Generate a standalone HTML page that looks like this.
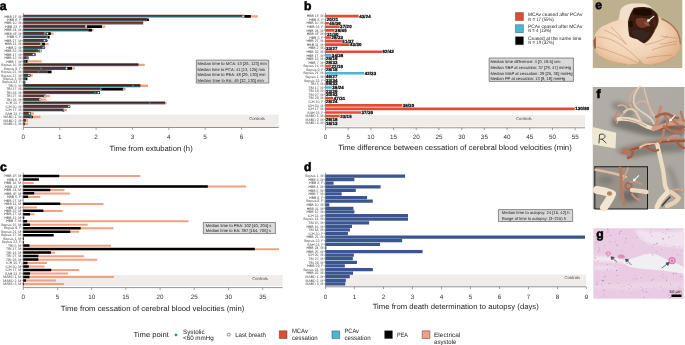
<!DOCTYPE html><html><head><meta charset="utf-8"><style>html,body{margin:0;padding:0;background:#fff;width:685px;height:345px;overflow:hidden}svg text{font-family:"Liberation Sans",sans-serif;text-rendering:geometricPrecision}</style></head><body><svg width="685" height="345" viewBox="0 0 685 345" style="position:absolute;left:0;top:0;will-change:transform;font-family:&quot;Liberation Sans&quot;, sans-serif">
<rect x="0" y="0" width="685" height="345" fill="#fff"/>
<g transform="matrix(1 0 0.0005 1 -0.086 0)">
<rect x="23.40" y="114.80" width="255.30" height="12.40" fill="#f0ece9" />
<line x1="23.40" y1="13.00" x2="23.40" y2="127.50" stroke="#666" stroke-width="0.6"/>
<line x1="23.40" y1="127.50" x2="278.70" y2="127.50" stroke="#666" stroke-width="0.7"/>
<line x1="23.40" y1="127.50" x2="23.40" y2="129.90" stroke="#666" stroke-width="0.6"/>
<text x="23.40" y="138.80" font-size="6.3" fill="#333" text-anchor="middle" font-weight="normal" >0</text>
<line x1="59.75" y1="127.50" x2="59.75" y2="129.90" stroke="#666" stroke-width="0.6"/>
<text x="59.75" y="138.80" font-size="6.3" fill="#333" text-anchor="middle" font-weight="normal" >1</text>
<line x1="96.10" y1="127.50" x2="96.10" y2="129.90" stroke="#666" stroke-width="0.6"/>
<text x="96.10" y="138.80" font-size="6.3" fill="#333" text-anchor="middle" font-weight="normal" >2</text>
<line x1="132.45" y1="127.50" x2="132.45" y2="129.90" stroke="#666" stroke-width="0.6"/>
<text x="132.45" y="138.80" font-size="6.3" fill="#333" text-anchor="middle" font-weight="normal" >3</text>
<line x1="168.80" y1="127.50" x2="168.80" y2="129.90" stroke="#666" stroke-width="0.6"/>
<text x="168.80" y="138.80" font-size="6.3" fill="#333" text-anchor="middle" font-weight="normal" >4</text>
<line x1="205.15" y1="127.50" x2="205.15" y2="129.90" stroke="#666" stroke-width="0.6"/>
<text x="205.15" y="138.80" font-size="6.3" fill="#333" text-anchor="middle" font-weight="normal" >5</text>
<line x1="241.50" y1="127.50" x2="241.50" y2="129.90" stroke="#666" stroke-width="0.6"/>
<text x="241.50" y="138.80" font-size="6.3" fill="#333" text-anchor="middle" font-weight="normal" >6</text>
<text x="109.50" y="150.50" font-size="7.5" fill="#222" text-anchor="start" font-weight="normal" textLength="83.20" lengthAdjust="spacingAndGlyphs">Time from extubation (h)</text>
<text x="264.80" y="119.80" font-size="4.2" fill="#444" text-anchor="end" font-weight="normal" >Controls</text>
<rect x="23.40" y="15.15" width="234.60" height="2.30" fill="#f2a081" />
<rect x="23.40" y="14.65" width="220.50" height="3.30" fill="url(#stripe0)" />
<rect x="244.50" y="14.95" width="6.40" height="2.70" fill="#000000" />
<circle cx="243.20" cy="16.30" r="1.05" fill="#fff" stroke="#222" stroke-width="0.35"/>
<rect x="23.40" y="18.12" width="123.60" height="3.30" fill="url(#stripe0)" />
<rect x="147.00" y="18.42" width="2.00" height="2.70" fill="#000000" />
<rect x="23.40" y="21.59" width="119.90" height="3.30" fill="url(#stripe0)" />
<rect x="23.40" y="25.57" width="81.90" height="2.30" fill="#f2a081" />
<rect x="23.40" y="25.07" width="62.00" height="3.30" fill="url(#stripe0)" />
<rect x="87.00" y="25.37" width="15.00" height="2.70" fill="#000000" />
<circle cx="86.20" cy="26.72" r="1.05" fill="#fff" stroke="#222" stroke-width="0.35"/>
<rect x="23.40" y="29.04" width="70.20" height="2.30" fill="#f2a081" />
<rect x="23.40" y="28.54" width="65.10" height="3.30" fill="url(#stripe0)" />
<rect x="88.50" y="28.84" width="3.50" height="2.70" fill="#000000" />
<rect x="23.40" y="32.51" width="30.30" height="2.30" fill="#f2a081" />
<rect x="23.40" y="32.01" width="21.20" height="3.30" fill="url(#stripe1)" />
<rect x="45.50" y="32.31" width="5.40" height="2.70" fill="#000000" />
<path d="M44.90,32.46 l1.2,1.2 l-1.2,1.2 l-1.2,-1.2 Z" fill="#1a9a88"/>
<circle cx="47.40" cy="33.66" r="1.05" fill="#fff" stroke="#222" stroke-width="0.35"/>
<rect x="23.40" y="35.48" width="24.60" height="3.30" fill="url(#stripe1)" />
<rect x="48.00" y="35.78" width="1.70" height="2.70" fill="#000000" />
<path d="M47.20,35.93 l1.2,1.2 l-1.2,1.2 l-1.2,-1.2 Z" fill="#1a9a88"/>
<rect x="23.40" y="38.95" width="22.60" height="3.30" fill="url(#stripe1)" />
<rect x="46.00" y="39.25" width="1.00" height="2.70" fill="#000000" />
<circle cx="44.60" cy="40.60" r="1.05" fill="#fff" stroke="#222" stroke-width="0.35"/>
<path d="M47.20,39.40 l1.2,1.2 l-1.2,1.2 l-1.2,-1.2 Z" fill="#1a9a88"/>
<rect x="23.40" y="42.93" width="25.20" height="2.30" fill="#f2a081" />
<rect x="23.40" y="42.43" width="16.60" height="3.30" fill="url(#stripe1)" />
<rect x="40.50" y="42.73" width="4.50" height="2.70" fill="#000000" />
<circle cx="41.20" cy="44.08" r="1.05" fill="#fff" stroke="#222" stroke-width="0.35"/>
<rect x="23.40" y="45.90" width="20.10" height="3.30" fill="url(#stripe1)" />
<rect x="43.50" y="46.20" width="1.30" height="2.70" fill="#000000" />
<circle cx="43.50" cy="47.55" r="1.05" fill="#fff" stroke="#222" stroke-width="0.35"/>
<path d="M44.40,46.35 l1.2,1.2 l-1.2,1.2 l-1.2,-1.2 Z" fill="#1a9a88"/>
<rect x="23.40" y="49.87" width="18.60" height="2.30" fill="#f2a081" />
<rect x="23.40" y="49.37" width="14.60" height="3.30" fill="url(#stripe1)" />
<rect x="38.50" y="49.67" width="1.50" height="2.70" fill="#000000" />
<path d="M39.30,49.82 l1.2,1.2 l-1.2,1.2 l-1.2,-1.2 Z" fill="#1a9a88"/>
<circle cx="40.70" cy="51.02" r="1.05" fill="#fff" stroke="#222" stroke-width="0.35"/>
<rect x="23.40" y="52.84" width="11.10" height="3.30" fill="url(#stripe1)" />
<rect x="34.50" y="53.14" width="1.20" height="2.70" fill="#000000" />
<circle cx="33.50" cy="54.49" r="1.05" fill="#fff" stroke="#222" stroke-width="0.35"/>
<path d="M35.20,53.29 l1.2,1.2 l-1.2,1.2 l-1.2,-1.2 Z" fill="#1a9a88"/>
<rect x="23.40" y="56.31" width="3.10" height="3.30" fill="url(#stripe1)" />
<rect x="26.50" y="56.61" width="2.00" height="2.70" fill="#000000" />
<path d="M27.30,56.76 l1.2,1.2 l-1.2,1.2 l-1.2,-1.2 Z" fill="#1a9a88"/>
<rect x="23.40" y="60.29" width="18.30" height="2.30" fill="#f2a081" />
<rect x="23.40" y="59.79" width="2.10" height="3.30" fill="url(#stripe1)" />
<rect x="25.50" y="60.09" width="2.00" height="2.70" fill="#000000" />
<rect x="23.40" y="63.76" width="121.40" height="2.30" fill="#f2a081" />
<rect x="23.40" y="63.26" width="115.10" height="3.30" fill="url(#stripe0)" />
<rect x="23.40" y="67.23" width="51.60" height="2.30" fill="#f2a081" />
<rect x="23.40" y="66.73" width="43.00" height="3.30" fill="url(#stripe1)" />
<rect x="66.80" y="67.03" width="5.20" height="2.70" fill="#000000" />
<path d="M41.00,67.18 l1.2,1.2 l-1.2,1.2 l-1.2,-1.2 Z" fill="#1a9a88"/>
<circle cx="66.60" cy="68.38" r="1.05" fill="#fff" stroke="#222" stroke-width="0.35"/>
<rect x="23.40" y="70.20" width="24.00" height="3.30" fill="url(#stripe1)" />
<rect x="47.40" y="70.50" width="4.20" height="2.70" fill="#000000" />
<path d="M38.60,70.65 l1.2,1.2 l-1.2,1.2 l-1.2,-1.2 Z" fill="#1a9a88"/>
<rect x="23.40" y="74.17" width="9.40" height="2.30" fill="#f2a081" />
<rect x="23.40" y="73.67" width="4.60" height="3.30" fill="url(#stripe1)" />
<rect x="28.00" y="73.97" width="2.40" height="2.70" fill="#000000" />
<circle cx="29.00" cy="75.32" r="1.05" fill="#fff" stroke="#222" stroke-width="0.35"/>
<rect x="23.40" y="77.15" width="2.60" height="3.30" fill="url(#stripe1)" />
<rect x="26.00" y="77.45" width="1.50" height="2.70" fill="#000000" />
<rect x="23.40" y="80.62" width="1.80" height="3.30" fill="url(#stripe1)" />
<path d="M25.00,81.07 l1.2,1.2 l-1.2,1.2 l-1.2,-1.2 Z" fill="#1a9a88"/>
<rect x="23.40" y="84.59" width="124.60" height="2.30" fill="#f2a081" />
<rect x="23.40" y="84.09" width="117.00" height="3.30" fill="url(#stripe0)" />
<path d="M133.00,84.54 l1.2,1.2 l-1.2,1.2 l-1.2,-1.2 Z" fill="#1a9a88"/>
<rect x="23.40" y="88.06" width="102.20" height="2.30" fill="#f2a081" />
<rect x="23.40" y="87.56" width="77.20" height="3.30" fill="url(#stripe0)" />
<rect x="101.00" y="87.86" width="22.30" height="2.70" fill="#000000" />
<path d="M101.00,88.01 l1.2,1.2 l-1.2,1.2 l-1.2,-1.2 Z" fill="#1a9a88"/>
<circle cx="123.80" cy="89.21" r="1.05" fill="#fff" stroke="#222" stroke-width="0.35"/>
<rect x="23.40" y="91.03" width="75.10" height="3.30" fill="url(#stripe0)" />
<rect x="98.50" y="91.33" width="1.50" height="2.70" fill="#000000" />
<path d="M95.00,91.48 l1.2,1.2 l-1.2,1.2 l-1.2,-1.2 Z" fill="#1a9a88"/>
<circle cx="98.50" cy="92.68" r="1.05" fill="#fff" stroke="#222" stroke-width="0.35"/>
<rect x="23.40" y="95.01" width="26.50" height="2.30" fill="#f2a081" />
<rect x="23.40" y="94.51" width="22.10" height="3.30" fill="url(#stripe1)" />
<circle cx="45.00" cy="96.16" r="1.05" fill="#fff" stroke="#222" stroke-width="0.35"/>
<rect x="23.40" y="98.48" width="23.10" height="2.30" fill="#f2a081" />
<rect x="23.40" y="97.98" width="16.80" height="3.30" fill="url(#stripe1)" />
<circle cx="40.00" cy="99.63" r="1.05" fill="#fff" stroke="#222" stroke-width="0.35"/>
<rect x="23.40" y="101.95" width="143.20" height="2.30" fill="#f2a081" />
<rect x="23.40" y="101.45" width="141.70" height="3.30" fill="url(#stripe0)" />
<path d="M150.00,101.90 l1.2,1.2 l-1.2,1.2 l-1.2,-1.2 Z" fill="#1a9a88"/>
<rect x="23.40" y="104.92" width="45.10" height="3.30" fill="url(#stripe1)" />
<rect x="68.50" y="105.22" width="1.70" height="2.70" fill="#000000" />
<circle cx="69.00" cy="106.57" r="1.05" fill="#fff" stroke="#222" stroke-width="0.35"/>
<rect x="23.40" y="108.89" width="43.40" height="2.30" fill="#f2a081" />
<rect x="23.40" y="108.39" width="39.10" height="3.30" fill="url(#stripe1)" />
<rect x="62.50" y="108.69" width="1.50" height="2.70" fill="#000000" />
<circle cx="64.20" cy="110.04" r="1.05" fill="#fff" stroke="#222" stroke-width="0.35"/>
<rect x="23.40" y="112.37" width="10.40" height="2.30" fill="#f2a081" />
<rect x="23.40" y="111.87" width="6.10" height="3.30" fill="url(#stripe1)" />
<rect x="29.50" y="112.17" width="1.20" height="2.70" fill="#000000" />
<circle cx="29.50" cy="113.52" r="1.05" fill="#fff" stroke="#222" stroke-width="0.35"/>
<rect x="23.40" y="115.84" width="17.00" height="2.30" fill="#f2a081" />
<rect x="23.40" y="115.34" width="8.10" height="3.30" fill="url(#stripe1)" />
<rect x="31.50" y="115.64" width="1.30" height="2.70" fill="#000000" />
<path d="M31.00,115.79 l1.2,1.2 l-1.2,1.2 l-1.2,-1.2 Z" fill="#1a9a88"/>
<rect x="23.40" y="119.31" width="4.60" height="2.30" fill="#f2a081" />
<rect x="23.40" y="118.81" width="1.10" height="3.30" fill="url(#stripe1)" />
<rect x="24.50" y="119.11" width="1.10" height="2.70" fill="#000000" />
<rect x="23.40" y="122.78" width="4.60" height="2.30" fill="#f2a081" />
<rect x="23.40" y="122.28" width="0.40" height="3.30" fill="url(#stripe1)" />
<rect x="23.80" y="122.58" width="0.90" height="2.70" fill="#000000" />
<text x="21.40" y="17.50" font-size="3.5" fill="#4a4a4a" text-anchor="end" font-weight="normal" >HBB 1F, M</text>
<text x="21.40" y="20.97" font-size="3.5" fill="#4a4a4a" text-anchor="end" font-weight="normal" >HBB 8, F</text>
<text x="21.40" y="24.44" font-size="3.5" fill="#4a4a4a" text-anchor="end" font-weight="normal" >HBB 10, M</text>
<text x="21.40" y="27.92" font-size="3.5" fill="#4a4a4a" text-anchor="end" font-weight="normal" >HBB 23, F</text>
<text x="21.40" y="31.39" font-size="3.5" fill="#4a4a4a" text-anchor="end" font-weight="normal" >HBB 24, M</text>
<text x="21.40" y="34.86" font-size="3.5" fill="#4a4a4a" text-anchor="end" font-weight="normal" >HBB 4F, M</text>
<text x="21.40" y="38.33" font-size="3.5" fill="#4a4a4a" text-anchor="end" font-weight="normal" >HBB 5, F</text>
<text x="21.40" y="41.80" font-size="3.5" fill="#4a4a4a" text-anchor="end" font-weight="normal" >HBB 27, M</text>
<text x="21.40" y="45.28" font-size="3.5" fill="#4a4a4a" text-anchor="end" font-weight="normal" >HBB 11, M</text>
<text x="21.40" y="48.75" font-size="3.5" fill="#4a4a4a" text-anchor="end" font-weight="normal" >HBB 2, M</text>
<text x="21.40" y="52.22" font-size="3.5" fill="#4a4a4a" text-anchor="end" font-weight="normal" >HBB 32, M</text>
<text x="21.40" y="55.69" font-size="3.5" fill="#4a4a4a" text-anchor="end" font-weight="normal" >HBB 17, M</text>
<text x="21.40" y="59.16" font-size="3.5" fill="#4a4a4a" text-anchor="end" font-weight="normal" >HBB 12, M</text>
<text x="21.40" y="62.64" font-size="3.5" fill="#4a4a4a" text-anchor="end" font-weight="normal" >HBB 7, M</text>
<text x="21.40" y="66.11" font-size="3.5" fill="#4a4a4a" text-anchor="end" font-weight="normal" >Sepsis 16, M</text>
<text x="21.40" y="69.58" font-size="3.5" fill="#4a4a4a" text-anchor="end" font-weight="normal" >Sepsis 9, F</text>
<text x="21.40" y="73.05" font-size="3.5" fill="#4a4a4a" text-anchor="end" font-weight="normal" >Sepsis 21, M</text>
<text x="21.40" y="76.52" font-size="3.5" fill="#4a4a4a" text-anchor="end" font-weight="normal" >Sepsis 17, M</text>
<text x="21.40" y="80.00" font-size="3.5" fill="#4a4a4a" text-anchor="end" font-weight="normal" >Sepsis 1, M</text>
<text x="21.40" y="83.47" font-size="3.5" fill="#4a4a4a" text-anchor="end" font-weight="normal" >Sepsis 22, F</text>
<text x="21.40" y="86.94" font-size="3.5" fill="#4a4a4a" text-anchor="end" font-weight="normal" >TBI 5, M</text>
<text x="21.40" y="90.41" font-size="3.5" fill="#4a4a4a" text-anchor="end" font-weight="normal" >TBI 17, M</text>
<text x="21.40" y="93.88" font-size="3.5" fill="#4a4a4a" text-anchor="end" font-weight="normal" >TBI 18, M</text>
<text x="21.40" y="97.36" font-size="3.5" fill="#4a4a4a" text-anchor="end" font-weight="normal" >TBI 27, M</text>
<text x="21.40" y="100.83" font-size="3.5" fill="#4a4a4a" text-anchor="end" font-weight="normal" >TBI 28, M</text>
<text x="21.40" y="104.30" font-size="3.5" fill="#4a4a4a" text-anchor="end" font-weight="normal" >ICH 20, F</text>
<text x="21.40" y="107.77" font-size="3.5" fill="#4a4a4a" text-anchor="end" font-weight="normal" >ICH 30, M</text>
<text x="21.40" y="111.24" font-size="3.5" fill="#4a4a4a" text-anchor="end" font-weight="normal" >ICH 17, M</text>
<text x="21.40" y="114.72" font-size="3.5" fill="#4a4a4a" text-anchor="end" font-weight="normal" >SAH 23, F</text>
<text x="21.40" y="118.19" font-size="3.5" fill="#4a4a4a" text-anchor="end" font-weight="normal" >MABD 1, M</text>
<text x="21.40" y="121.66" font-size="3.5" fill="#4a4a4a" text-anchor="end" font-weight="normal" >MABD 2, M</text>
<text x="21.40" y="125.13" font-size="3.5" fill="#4a4a4a" text-anchor="end" font-weight="normal" >MABD 3, M</text>
<line x1="21.80" y1="16.30" x2="23.40" y2="16.30" stroke="#444" stroke-width="0.4"/>
<line x1="21.80" y1="19.77" x2="23.40" y2="19.77" stroke="#444" stroke-width="0.4"/>
<line x1="21.80" y1="23.24" x2="23.40" y2="23.24" stroke="#444" stroke-width="0.4"/>
<line x1="21.80" y1="26.72" x2="23.40" y2="26.72" stroke="#444" stroke-width="0.4"/>
<line x1="21.80" y1="30.19" x2="23.40" y2="30.19" stroke="#444" stroke-width="0.4"/>
<line x1="21.80" y1="33.66" x2="23.40" y2="33.66" stroke="#444" stroke-width="0.4"/>
<line x1="21.80" y1="37.13" x2="23.40" y2="37.13" stroke="#444" stroke-width="0.4"/>
<line x1="21.80" y1="40.60" x2="23.40" y2="40.60" stroke="#444" stroke-width="0.4"/>
<line x1="21.80" y1="44.08" x2="23.40" y2="44.08" stroke="#444" stroke-width="0.4"/>
<line x1="21.80" y1="47.55" x2="23.40" y2="47.55" stroke="#444" stroke-width="0.4"/>
<line x1="21.80" y1="51.02" x2="23.40" y2="51.02" stroke="#444" stroke-width="0.4"/>
<line x1="21.80" y1="54.49" x2="23.40" y2="54.49" stroke="#444" stroke-width="0.4"/>
<line x1="21.80" y1="57.96" x2="23.40" y2="57.96" stroke="#444" stroke-width="0.4"/>
<line x1="21.80" y1="61.44" x2="23.40" y2="61.44" stroke="#444" stroke-width="0.4"/>
<line x1="21.80" y1="64.91" x2="23.40" y2="64.91" stroke="#444" stroke-width="0.4"/>
<line x1="21.80" y1="68.38" x2="23.40" y2="68.38" stroke="#444" stroke-width="0.4"/>
<line x1="21.80" y1="71.85" x2="23.40" y2="71.85" stroke="#444" stroke-width="0.4"/>
<line x1="21.80" y1="75.32" x2="23.40" y2="75.32" stroke="#444" stroke-width="0.4"/>
<line x1="21.80" y1="78.80" x2="23.40" y2="78.80" stroke="#444" stroke-width="0.4"/>
<line x1="21.80" y1="82.27" x2="23.40" y2="82.27" stroke="#444" stroke-width="0.4"/>
<line x1="21.80" y1="85.74" x2="23.40" y2="85.74" stroke="#444" stroke-width="0.4"/>
<line x1="21.80" y1="89.21" x2="23.40" y2="89.21" stroke="#444" stroke-width="0.4"/>
<line x1="21.80" y1="92.68" x2="23.40" y2="92.68" stroke="#444" stroke-width="0.4"/>
<line x1="21.80" y1="96.16" x2="23.40" y2="96.16" stroke="#444" stroke-width="0.4"/>
<line x1="21.80" y1="99.63" x2="23.40" y2="99.63" stroke="#444" stroke-width="0.4"/>
<line x1="21.80" y1="103.10" x2="23.40" y2="103.10" stroke="#444" stroke-width="0.4"/>
<line x1="21.80" y1="106.57" x2="23.40" y2="106.57" stroke="#444" stroke-width="0.4"/>
<line x1="21.80" y1="110.04" x2="23.40" y2="110.04" stroke="#444" stroke-width="0.4"/>
<line x1="21.80" y1="113.52" x2="23.40" y2="113.52" stroke="#444" stroke-width="0.4"/>
<line x1="21.80" y1="116.99" x2="23.40" y2="116.99" stroke="#444" stroke-width="0.4"/>
<line x1="21.80" y1="120.46" x2="23.40" y2="120.46" stroke="#444" stroke-width="0.4"/>
<line x1="21.80" y1="123.93" x2="23.40" y2="123.93" stroke="#444" stroke-width="0.4"/>
<rect x="196.40" y="60.10" width="72.40" height="23.00" fill="#d9d9d9" stroke="#4a4a4a" stroke-width="0.6"/>
<text x="197.60" y="64.80" font-size="4.2" fill="#1a1a1a" text-anchor="start" font-weight="normal" textLength="69.20" lengthAdjust="spacingAndGlyphs">Median time to MCA: 43 [26, 123] min</text>
<text x="197.60" y="70.60" font-size="4.2" fill="#1a1a1a" text-anchor="start" font-weight="normal" textLength="67.50" lengthAdjust="spacingAndGlyphs">Median time to PCA: 41 [13, 125] min</text>
<text x="197.60" y="76.20" font-size="4.2" fill="#1a1a1a" text-anchor="start" font-weight="normal" textLength="68.10" lengthAdjust="spacingAndGlyphs">Median time to PEA: 48 [29, 130] min</text>
<text x="197.60" y="81.70" font-size="4.2" fill="#1a1a1a" text-anchor="start" font-weight="normal" textLength="66.30" lengthAdjust="spacingAndGlyphs">Median time to EA: 49 [32, 130] min</text>
<text x="-0.10" y="9.75" font-size="12.2" fill="#000" text-anchor="start" font-weight="bold" stroke="#000" stroke-width="0.55">a</text>
<rect x="325.50" y="115.00" width="259.50" height="11.80" fill="#f0ece9" />
<line x1="325.50" y1="13.00" x2="325.50" y2="127.80" stroke="#666" stroke-width="0.6"/>
<line x1="325.50" y1="127.80" x2="585.00" y2="127.80" stroke="#666" stroke-width="0.7"/>
<line x1="325.50" y1="127.80" x2="325.50" y2="130.20" stroke="#666" stroke-width="0.6"/>
<text x="325.50" y="139.30" font-size="6.3" fill="#333" text-anchor="middle" font-weight="normal" >0</text>
<line x1="348.20" y1="127.80" x2="348.20" y2="130.20" stroke="#666" stroke-width="0.6"/>
<text x="348.20" y="139.30" font-size="6.3" fill="#333" text-anchor="middle" font-weight="normal" >5</text>
<line x1="370.90" y1="127.80" x2="370.90" y2="130.20" stroke="#666" stroke-width="0.6"/>
<text x="370.90" y="139.30" font-size="6.3" fill="#333" text-anchor="middle" font-weight="normal" >10</text>
<line x1="393.60" y1="127.80" x2="393.60" y2="130.20" stroke="#666" stroke-width="0.6"/>
<text x="393.60" y="139.30" font-size="6.3" fill="#333" text-anchor="middle" font-weight="normal" >15</text>
<line x1="416.30" y1="127.80" x2="416.30" y2="130.20" stroke="#666" stroke-width="0.6"/>
<text x="416.30" y="139.30" font-size="6.3" fill="#333" text-anchor="middle" font-weight="normal" >20</text>
<line x1="439.00" y1="127.80" x2="439.00" y2="130.20" stroke="#666" stroke-width="0.6"/>
<text x="439.00" y="139.30" font-size="6.3" fill="#333" text-anchor="middle" font-weight="normal" >25</text>
<line x1="461.70" y1="127.80" x2="461.70" y2="130.20" stroke="#666" stroke-width="0.6"/>
<text x="461.70" y="139.30" font-size="6.3" fill="#333" text-anchor="middle" font-weight="normal" >30</text>
<line x1="484.40" y1="127.80" x2="484.40" y2="130.20" stroke="#666" stroke-width="0.6"/>
<text x="484.40" y="139.30" font-size="6.3" fill="#333" text-anchor="middle" font-weight="normal" >35</text>
<line x1="507.10" y1="127.80" x2="507.10" y2="130.20" stroke="#666" stroke-width="0.6"/>
<text x="507.10" y="139.30" font-size="6.3" fill="#333" text-anchor="middle" font-weight="normal" >40</text>
<line x1="529.80" y1="127.80" x2="529.80" y2="130.20" stroke="#666" stroke-width="0.6"/>
<text x="529.80" y="139.30" font-size="6.3" fill="#333" text-anchor="middle" font-weight="normal" >45</text>
<line x1="552.50" y1="127.80" x2="552.50" y2="130.20" stroke="#666" stroke-width="0.6"/>
<text x="552.50" y="139.30" font-size="6.3" fill="#333" text-anchor="middle" font-weight="normal" >50</text>
<line x1="575.20" y1="127.80" x2="575.20" y2="130.20" stroke="#666" stroke-width="0.6"/>
<text x="575.20" y="139.30" font-size="6.3" fill="#333" text-anchor="middle" font-weight="normal" >55</text>
<text x="338.20" y="150.00" font-size="7.5" fill="#222" text-anchor="start" font-weight="normal" textLength="233.60" lengthAdjust="spacingAndGlyphs">Time difference between cessation of cerebral blood velocities (min)</text>
<text x="531.70" y="119.80" font-size="4.2" fill="#444" text-anchor="end" font-weight="normal" >Controls</text>
<rect x="325.50" y="14.80" width="33.30" height="2.60" fill="#e14b33" />
<text x="359.30" y="17.65" font-size="4.4" fill="#000" text-anchor="start" font-weight="bold" letter-spacing="0.12" stroke="#000" stroke-width="0.22">43/24</text>
<rect x="325.50" y="18.37" width="0.80" height="2.60" fill="#4bb7d6" />
<text x="326.80" y="21.22" font-size="4.4" fill="#000" text-anchor="start" font-weight="bold" letter-spacing="0.12" stroke="#000" stroke-width="0.22">20/21</text>
<rect x="325.50" y="21.94" width="3.40" height="2.60" fill="#e14b33" />
<text x="329.40" y="24.79" font-size="4.4" fill="#000" text-anchor="start" font-weight="bold" letter-spacing="0.12" stroke="#000" stroke-width="0.22">45/36</text>
<rect x="325.50" y="25.51" width="14.20" height="2.60" fill="#e14b33" />
<text x="340.20" y="28.36" font-size="4.4" fill="#000" text-anchor="start" font-weight="bold" letter-spacing="0.12" stroke="#000" stroke-width="0.22">37/20</text>
<rect x="325.50" y="29.08" width="9.20" height="2.60" fill="#e14b33" />
<text x="335.20" y="31.93" font-size="4.4" fill="#000" text-anchor="start" font-weight="bold" letter-spacing="0.12" stroke="#000" stroke-width="0.22">39/45</text>
<rect x="325.50" y="32.65" width="1.10" height="2.60" fill="#e14b33" />
<text x="327.10" y="35.50" font-size="4.4" fill="#000" text-anchor="start" font-weight="bold" letter-spacing="0.12" stroke="#000" stroke-width="0.22">31/30</text>
<rect x="325.50" y="36.22" width="5.50" height="2.60" fill="#e14b33" />
<text x="331.50" y="39.07" font-size="4.4" fill="#000" text-anchor="start" font-weight="bold" letter-spacing="0.12" stroke="#000" stroke-width="0.22">28/33</text>
<rect x="325.50" y="39.79" width="16.40" height="2.60" fill="#e14b33" />
<text x="342.40" y="42.64" font-size="4.4" fill="#000" text-anchor="start" font-weight="bold" letter-spacing="0.12" stroke="#000" stroke-width="0.22">51/37</text>
<rect x="325.50" y="43.36" width="24.10" height="2.60" fill="#e14b33" />
<text x="350.10" y="46.21" font-size="4.4" fill="#000" text-anchor="start" font-weight="bold" letter-spacing="0.12" stroke="#000" stroke-width="0.22">43/30</text>
<text x="326.00" y="49.78" font-size="4.4" fill="#000" text-anchor="start" font-weight="bold" letter-spacing="0.12" stroke="#000" stroke-width="0.22">33/27</text>
<rect x="325.50" y="50.50" width="56.50" height="2.60" fill="#e14b33" />
<text x="382.50" y="53.35" font-size="4.4" fill="#000" text-anchor="start" font-weight="bold" letter-spacing="0.12" stroke="#000" stroke-width="0.22">62/42</text>
<rect x="325.50" y="54.07" width="5.90" height="2.60" fill="#4bb7d6" />
<text x="331.90" y="56.92" font-size="4.4" fill="#000" text-anchor="start" font-weight="bold" letter-spacing="0.12" stroke="#000" stroke-width="0.22">34/38</text>
<text x="326.00" y="60.49" font-size="4.4" fill="#000" text-anchor="start" font-weight="bold" letter-spacing="0.12" stroke="#000" stroke-width="0.22">28/19</text>
<text x="326.00" y="64.06" font-size="4.4" fill="#000" text-anchor="start" font-weight="bold" letter-spacing="0.12" stroke="#000" stroke-width="0.22">28/33</text>
<rect x="325.50" y="64.78" width="5.60" height="2.60" fill="#e14b33" />
<text x="331.60" y="67.63" font-size="4.4" fill="#000" text-anchor="start" font-weight="bold" letter-spacing="0.12" stroke="#000" stroke-width="0.22">22/19</text>
<text x="326.00" y="71.20" font-size="4.4" fill="#000" text-anchor="start" font-weight="bold" letter-spacing="0.12" stroke="#000" stroke-width="0.22">28/18</text>
<rect x="325.50" y="71.92" width="38.70" height="2.60" fill="#4bb7d6" />
<text x="364.70" y="74.77" font-size="4.4" fill="#000" text-anchor="start" font-weight="bold" letter-spacing="0.12" stroke="#000" stroke-width="0.22">42/33</text>
<text x="326.00" y="78.34" font-size="4.4" fill="#000" text-anchor="start" font-weight="bold" letter-spacing="0.12" stroke="#000" stroke-width="0.22">46/27</text>
<text x="326.00" y="81.91" font-size="4.4" fill="#000" text-anchor="start" font-weight="bold" letter-spacing="0.12" stroke="#000" stroke-width="0.22">33/34</text>
<text x="326.00" y="85.48" font-size="4.4" fill="#000" text-anchor="start" font-weight="bold" letter-spacing="0.12" stroke="#000" stroke-width="0.22">59/33</text>
<rect x="325.50" y="86.20" width="6.30" height="2.60" fill="#4bb7d6" />
<text x="332.30" y="89.05" font-size="4.4" fill="#000" text-anchor="start" font-weight="bold" letter-spacing="0.12" stroke="#000" stroke-width="0.22">38/24</text>
<text x="326.00" y="92.62" font-size="4.4" fill="#000" text-anchor="start" font-weight="bold" letter-spacing="0.12" stroke="#000" stroke-width="0.22">23/29</text>
<text x="326.00" y="96.19" font-size="4.4" fill="#000" text-anchor="start" font-weight="bold" letter-spacing="0.12" stroke="#000" stroke-width="0.22">30/43</text>
<rect x="325.50" y="96.91" width="7.80" height="2.60" fill="#e14b33" />
<text x="333.80" y="99.76" font-size="4.4" fill="#000" text-anchor="start" font-weight="bold" letter-spacing="0.12" stroke="#000" stroke-width="0.22">47/31</text>
<text x="326.00" y="103.33" font-size="4.4" fill="#000" text-anchor="start" font-weight="bold" letter-spacing="0.12" stroke="#000" stroke-width="0.22">28/24</text>
<rect x="325.50" y="104.05" width="76.70" height="2.60" fill="#e14b33" />
<text x="402.70" y="106.90" font-size="4.4" fill="#000" text-anchor="start" font-weight="bold" letter-spacing="0.12" stroke="#000" stroke-width="0.22">38/30</text>
<rect x="325.50" y="107.62" width="249.20" height="2.60" fill="#e14b33" />
<text x="575.20" y="110.47" font-size="4.4" fill="#000" text-anchor="start" font-weight="bold" letter-spacing="0.12" stroke="#000" stroke-width="0.22">130/80</text>
<rect x="325.50" y="111.19" width="35.50" height="2.60" fill="#e14b33" />
<text x="361.50" y="114.04" font-size="4.4" fill="#000" text-anchor="start" font-weight="bold" letter-spacing="0.12" stroke="#000" stroke-width="0.22">37/39</text>
<rect x="325.50" y="114.76" width="14.20" height="2.60" fill="#e14b33" />
<text x="340.20" y="117.61" font-size="4.4" fill="#000" text-anchor="start" font-weight="bold" letter-spacing="0.12" stroke="#000" stroke-width="0.22">23/15</text>
<text x="326.00" y="121.18" font-size="4.4" fill="#000" text-anchor="start" font-weight="bold" letter-spacing="0.12" stroke="#000" stroke-width="0.22">26/18</text>
<text x="326.00" y="124.75" font-size="4.4" fill="#000" text-anchor="start" font-weight="bold" letter-spacing="0.12" stroke="#000" stroke-width="0.22">18/13</text>
<text x="323.50" y="17.30" font-size="3.5" fill="#4a4a4a" text-anchor="end" font-weight="normal" >HBB 1F, M</text>
<text x="323.50" y="20.87" font-size="3.5" fill="#4a4a4a" text-anchor="end" font-weight="normal" >HBB 8, F</text>
<text x="323.50" y="24.44" font-size="3.5" fill="#4a4a4a" text-anchor="end" font-weight="normal" >HBB 10, M</text>
<text x="323.50" y="28.01" font-size="3.5" fill="#4a4a4a" text-anchor="end" font-weight="normal" >HBB 23, F</text>
<text x="323.50" y="31.58" font-size="3.5" fill="#4a4a4a" text-anchor="end" font-weight="normal" >HBB 24, M</text>
<text x="323.50" y="35.15" font-size="3.5" fill="#4a4a4a" text-anchor="end" font-weight="normal" >HBB 4F, M</text>
<text x="323.50" y="38.72" font-size="3.5" fill="#4a4a4a" text-anchor="end" font-weight="normal" >HBB 5, F</text>
<text x="323.50" y="42.29" font-size="3.5" fill="#4a4a4a" text-anchor="end" font-weight="normal" >HBB 27, M</text>
<text x="323.50" y="45.86" font-size="3.5" fill="#4a4a4a" text-anchor="end" font-weight="normal" >HBB 11, M</text>
<text x="323.50" y="49.43" font-size="3.5" fill="#4a4a4a" text-anchor="end" font-weight="normal" >HBB 2, M</text>
<text x="323.50" y="53.00" font-size="3.5" fill="#4a4a4a" text-anchor="end" font-weight="normal" >HBB 32, M</text>
<text x="323.50" y="56.57" font-size="3.5" fill="#4a4a4a" text-anchor="end" font-weight="normal" >HBB 17, M</text>
<text x="323.50" y="60.14" font-size="3.5" fill="#4a4a4a" text-anchor="end" font-weight="normal" >HBB 12, M</text>
<text x="323.50" y="63.71" font-size="3.5" fill="#4a4a4a" text-anchor="end" font-weight="normal" >HBB 7, M</text>
<text x="323.50" y="67.28" font-size="3.5" fill="#4a4a4a" text-anchor="end" font-weight="normal" >Sepsis 16, M</text>
<text x="323.50" y="70.85" font-size="3.5" fill="#4a4a4a" text-anchor="end" font-weight="normal" >Sepsis 9, F</text>
<text x="323.50" y="74.42" font-size="3.5" fill="#4a4a4a" text-anchor="end" font-weight="normal" >Sepsis 21, M</text>
<text x="323.50" y="77.99" font-size="3.5" fill="#4a4a4a" text-anchor="end" font-weight="normal" >Sepsis 1, M</text>
<text x="323.50" y="81.56" font-size="3.5" fill="#4a4a4a" text-anchor="end" font-weight="normal" >Sepsis 22, F</text>
<text x="323.50" y="85.13" font-size="3.5" fill="#4a4a4a" text-anchor="end" font-weight="normal" >TBI 5, M</text>
<text x="323.50" y="88.70" font-size="3.5" fill="#4a4a4a" text-anchor="end" font-weight="normal" >TBI 17, M</text>
<text x="323.50" y="92.27" font-size="3.5" fill="#4a4a4a" text-anchor="end" font-weight="normal" >TBI 18, M</text>
<text x="323.50" y="95.84" font-size="3.5" fill="#4a4a4a" text-anchor="end" font-weight="normal" >TBI 27, M</text>
<text x="323.50" y="99.41" font-size="3.5" fill="#4a4a4a" text-anchor="end" font-weight="normal" >TBI 28, M</text>
<text x="323.50" y="102.98" font-size="3.5" fill="#4a4a4a" text-anchor="end" font-weight="normal" >ICH 20, F</text>
<text x="323.50" y="106.55" font-size="3.5" fill="#4a4a4a" text-anchor="end" font-weight="normal" >ICH 30, M</text>
<text x="323.50" y="110.12" font-size="3.5" fill="#4a4a4a" text-anchor="end" font-weight="normal" >ICH 17, M</text>
<text x="323.50" y="113.69" font-size="3.5" fill="#4a4a4a" text-anchor="end" font-weight="normal" >SAH 23, F</text>
<text x="323.50" y="117.26" font-size="3.5" fill="#4a4a4a" text-anchor="end" font-weight="normal" >MABD 1, M</text>
<text x="323.50" y="120.83" font-size="3.5" fill="#4a4a4a" text-anchor="end" font-weight="normal" >MABD 2, M</text>
<text x="323.50" y="124.40" font-size="3.5" fill="#4a4a4a" text-anchor="end" font-weight="normal" >MABD 3, M</text>
<line x1="323.90" y1="16.10" x2="325.50" y2="16.10" stroke="#444" stroke-width="0.4"/>
<line x1="323.90" y1="19.67" x2="325.50" y2="19.67" stroke="#444" stroke-width="0.4"/>
<line x1="323.90" y1="23.24" x2="325.50" y2="23.24" stroke="#444" stroke-width="0.4"/>
<line x1="323.90" y1="26.81" x2="325.50" y2="26.81" stroke="#444" stroke-width="0.4"/>
<line x1="323.90" y1="30.38" x2="325.50" y2="30.38" stroke="#444" stroke-width="0.4"/>
<line x1="323.90" y1="33.95" x2="325.50" y2="33.95" stroke="#444" stroke-width="0.4"/>
<line x1="323.90" y1="37.52" x2="325.50" y2="37.52" stroke="#444" stroke-width="0.4"/>
<line x1="323.90" y1="41.09" x2="325.50" y2="41.09" stroke="#444" stroke-width="0.4"/>
<line x1="323.90" y1="44.66" x2="325.50" y2="44.66" stroke="#444" stroke-width="0.4"/>
<line x1="323.90" y1="48.23" x2="325.50" y2="48.23" stroke="#444" stroke-width="0.4"/>
<line x1="323.90" y1="51.80" x2="325.50" y2="51.80" stroke="#444" stroke-width="0.4"/>
<line x1="323.90" y1="55.37" x2="325.50" y2="55.37" stroke="#444" stroke-width="0.4"/>
<line x1="323.90" y1="58.94" x2="325.50" y2="58.94" stroke="#444" stroke-width="0.4"/>
<line x1="323.90" y1="62.51" x2="325.50" y2="62.51" stroke="#444" stroke-width="0.4"/>
<line x1="323.90" y1="66.08" x2="325.50" y2="66.08" stroke="#444" stroke-width="0.4"/>
<line x1="323.90" y1="69.65" x2="325.50" y2="69.65" stroke="#444" stroke-width="0.4"/>
<line x1="323.90" y1="73.22" x2="325.50" y2="73.22" stroke="#444" stroke-width="0.4"/>
<line x1="323.90" y1="76.79" x2="325.50" y2="76.79" stroke="#444" stroke-width="0.4"/>
<line x1="323.90" y1="80.36" x2="325.50" y2="80.36" stroke="#444" stroke-width="0.4"/>
<line x1="323.90" y1="83.93" x2="325.50" y2="83.93" stroke="#444" stroke-width="0.4"/>
<line x1="323.90" y1="87.50" x2="325.50" y2="87.50" stroke="#444" stroke-width="0.4"/>
<line x1="323.90" y1="91.07" x2="325.50" y2="91.07" stroke="#444" stroke-width="0.4"/>
<line x1="323.90" y1="94.64" x2="325.50" y2="94.64" stroke="#444" stroke-width="0.4"/>
<line x1="323.90" y1="98.21" x2="325.50" y2="98.21" stroke="#444" stroke-width="0.4"/>
<line x1="323.90" y1="101.78" x2="325.50" y2="101.78" stroke="#444" stroke-width="0.4"/>
<line x1="323.90" y1="105.35" x2="325.50" y2="105.35" stroke="#444" stroke-width="0.4"/>
<line x1="323.90" y1="108.92" x2="325.50" y2="108.92" stroke="#444" stroke-width="0.4"/>
<line x1="323.90" y1="112.49" x2="325.50" y2="112.49" stroke="#444" stroke-width="0.4"/>
<line x1="323.90" y1="116.06" x2="325.50" y2="116.06" stroke="#444" stroke-width="0.4"/>
<line x1="323.90" y1="119.63" x2="325.50" y2="119.63" stroke="#444" stroke-width="0.4"/>
<line x1="323.90" y1="123.20" x2="325.50" y2="123.20" stroke="#444" stroke-width="0.4"/>
<rect x="515.50" y="12.60" width="8.00" height="8.00" fill="#e14b33" stroke="#333" stroke-width="0.4"/>
<text x="528.10" y="15.70" font-size="4.9" fill="#222" text-anchor="start" font-weight="normal" textLength="54.30" lengthAdjust="spacingAndGlyphs">MCAv ceased after PCAv</text>
<text x="528.1" y="20.50" font-size="4.9" fill="#222" textLength="25.80" lengthAdjust="spacingAndGlyphs"><tspan font-style="italic">N</tspan> = 17 (55%)</text>
<rect x="515.50" y="24.65" width="8.00" height="8.00" fill="#4bb7d6" stroke="#333" stroke-width="0.4"/>
<text x="528.10" y="27.60" font-size="4.9" fill="#222" text-anchor="start" font-weight="normal" textLength="54.30" lengthAdjust="spacingAndGlyphs">PCAv ceased after MCAv</text>
<text x="528.1" y="32.40" font-size="4.9" fill="#222" textLength="23.20" lengthAdjust="spacingAndGlyphs"><tspan font-style="italic">N</tspan> = 4 (13%)</text>
<rect x="515.50" y="36.70" width="8.00" height="8.00" fill="#000000" stroke="#333" stroke-width="0.4"/>
<text x="528.10" y="39.50" font-size="4.9" fill="#222" text-anchor="start" font-weight="normal" textLength="53.50" lengthAdjust="spacingAndGlyphs">Ceased at the same time</text>
<text x="528.1" y="44.30" font-size="4.9" fill="#222" textLength="26.10" lengthAdjust="spacingAndGlyphs"><tspan font-style="italic">N</tspan> = 10 (32%)</text>
<rect x="489.20" y="58.00" width="84.30" height="23.40" fill="#d9d9d9" stroke="#4a4a4a" stroke-width="0.6"/>
<text x="490.50" y="62.70" font-size="4.2" fill="#1a1a1a" text-anchor="start" font-weight="normal" textLength="70.10" lengthAdjust="spacingAndGlyphs">Median time difference: 4 [0, 19.5] sec</text>
<text x="490.50" y="68.70" font-size="4.2" fill="#1a1a1a" text-anchor="start" font-weight="normal" textLength="80.50" lengthAdjust="spacingAndGlyphs">Median SBP at cessation: 37 [29, 47] mmHg</text>
<text x="490.50" y="74.50" font-size="4.2" fill="#1a1a1a" text-anchor="start" font-weight="normal" textLength="82.20" lengthAdjust="spacingAndGlyphs">Median MAP at cessation: 29 [25, 36] mmHg</text>
<text x="490.50" y="80.10" font-size="4.2" fill="#1a1a1a" text-anchor="start" font-weight="normal" textLength="74.90" lengthAdjust="spacingAndGlyphs">Median PP at cessation: 13 [8, 18] mmHg</text>
<text x="304.10" y="9.90" font-size="12.2" fill="#000" text-anchor="start" font-weight="bold" stroke="#000" stroke-width="0.55">b</text>
<rect x="23.20" y="275.00" width="259.40" height="11.00" fill="#f0ece9" />
<line x1="23.20" y1="172.40" x2="23.20" y2="287.60" stroke="#666" stroke-width="0.6"/>
<line x1="23.20" y1="287.60" x2="282.60" y2="287.60" stroke="#666" stroke-width="0.7"/>
<line x1="23.20" y1="287.60" x2="23.20" y2="290.00" stroke="#666" stroke-width="0.6"/>
<text x="23.20" y="298.60" font-size="6.3" fill="#333" text-anchor="middle" font-weight="normal" >0</text>
<line x1="57.40" y1="287.60" x2="57.40" y2="290.00" stroke="#666" stroke-width="0.6"/>
<text x="57.40" y="298.60" font-size="6.3" fill="#333" text-anchor="middle" font-weight="normal" >5</text>
<line x1="91.60" y1="287.60" x2="91.60" y2="290.00" stroke="#666" stroke-width="0.6"/>
<text x="91.60" y="298.60" font-size="6.3" fill="#333" text-anchor="middle" font-weight="normal" >10</text>
<line x1="125.80" y1="287.60" x2="125.80" y2="290.00" stroke="#666" stroke-width="0.6"/>
<text x="125.80" y="298.60" font-size="6.3" fill="#333" text-anchor="middle" font-weight="normal" >15</text>
<line x1="160.00" y1="287.60" x2="160.00" y2="290.00" stroke="#666" stroke-width="0.6"/>
<text x="160.00" y="298.60" font-size="6.3" fill="#333" text-anchor="middle" font-weight="normal" >20</text>
<line x1="194.20" y1="287.60" x2="194.20" y2="290.00" stroke="#666" stroke-width="0.6"/>
<text x="194.20" y="298.60" font-size="6.3" fill="#333" text-anchor="middle" font-weight="normal" >25</text>
<line x1="228.40" y1="287.60" x2="228.40" y2="290.00" stroke="#666" stroke-width="0.6"/>
<text x="228.40" y="298.60" font-size="6.3" fill="#333" text-anchor="middle" font-weight="normal" >30</text>
<line x1="262.60" y1="287.60" x2="262.60" y2="290.00" stroke="#666" stroke-width="0.6"/>
<text x="262.60" y="298.60" font-size="6.3" fill="#333" text-anchor="middle" font-weight="normal" >35</text>
<text x="60.80" y="310.50" font-size="7.5" fill="#222" text-anchor="start" font-weight="normal" textLength="183.50" lengthAdjust="spacingAndGlyphs">Time from cessation of cerebral blood velocities (min)</text>
<text x="267.80" y="279.90" font-size="4.2" fill="#444" text-anchor="end" font-weight="normal" >Controls</text>
<rect x="23.20" y="175.05" width="117.10" height="2.00" fill="#f2a081" />
<rect x="23.20" y="174.70" width="36.00" height="2.50" fill="#000000" />
<rect x="23.20" y="178.18" width="15.70" height="2.50" fill="#000000" />
<rect x="23.20" y="182.02" width="10.60" height="2.00" fill="#f2a081" />
<rect x="23.20" y="185.50" width="222.70" height="2.00" fill="#f2a081" />
<rect x="23.20" y="185.15" width="184.60" height="2.50" fill="#000000" />
<rect x="23.20" y="188.98" width="41.30" height="2.00" fill="#f2a081" />
<rect x="23.20" y="188.63" width="27.10" height="2.50" fill="#000000" />
<rect x="23.20" y="192.46" width="46.60" height="2.00" fill="#f2a081" />
<rect x="23.20" y="192.11" width="11.00" height="2.50" fill="#000000" />
<rect x="23.20" y="195.95" width="17.00" height="2.00" fill="#f2a081" />
<rect x="23.20" y="195.60" width="4.90" height="2.50" fill="#000000" />
<rect x="23.20" y="202.91" width="80.20" height="2.00" fill="#f2a081" />
<rect x="23.20" y="202.56" width="37.10" height="2.50" fill="#000000" />
<rect x="23.20" y="206.40" width="13.80" height="2.00" fill="#f2a081" />
<rect x="23.20" y="209.88" width="39.40" height="2.00" fill="#f2a081" />
<rect x="23.20" y="209.53" width="20.10" height="2.50" fill="#000000" />
<rect x="23.20" y="213.36" width="11.30" height="2.00" fill="#f2a081" />
<rect x="23.20" y="213.01" width="6.80" height="2.50" fill="#000000" />
<rect x="23.20" y="216.50" width="1.10" height="2.50" fill="#000000" />
<rect x="23.20" y="220.33" width="165.30" height="2.00" fill="#f2a081" />
<rect x="23.20" y="219.98" width="3.90" height="2.50" fill="#000000" />
<rect x="23.20" y="223.81" width="64.50" height="2.00" fill="#f2a081" />
<rect x="23.20" y="223.46" width="6.80" height="2.50" fill="#000000" />
<rect x="23.20" y="227.29" width="90.30" height="2.00" fill="#f2a081" />
<rect x="23.20" y="226.94" width="57.40" height="2.50" fill="#000000" />
<rect x="23.20" y="230.78" width="55.90" height="2.00" fill="#f2a081" />
<rect x="23.20" y="230.43" width="47.00" height="2.50" fill="#000000" />
<rect x="23.20" y="233.91" width="30.50" height="2.50" fill="#000000" />
<rect x="23.20" y="237.39" width="0.70" height="2.50" fill="#000000" />
<rect x="23.20" y="240.88" width="0.70" height="2.50" fill="#000000" />
<rect x="23.20" y="244.71" width="87.80" height="2.00" fill="#f2a081" />
<rect x="23.20" y="244.36" width="6.20" height="2.50" fill="#000000" />
<rect x="23.20" y="248.19" width="255.70" height="2.00" fill="#f2a081" />
<rect x="23.20" y="247.84" width="231.60" height="2.50" fill="#000000" />
<rect x="23.20" y="251.68" width="31.80" height="2.00" fill="#f2a081" />
<rect x="23.20" y="251.33" width="27.70" height="2.50" fill="#000000" />
<rect x="23.20" y="255.16" width="60.70" height="2.00" fill="#f2a081" />
<rect x="23.20" y="254.81" width="15.10" height="2.50" fill="#000000" />
<rect x="23.20" y="258.64" width="74.00" height="2.00" fill="#f2a081" />
<rect x="23.20" y="258.29" width="15.10" height="2.50" fill="#000000" />
<rect x="23.20" y="262.12" width="23.70" height="2.00" fill="#f2a081" />
<rect x="23.20" y="261.77" width="4.30" height="2.50" fill="#000000" />
<rect x="23.20" y="265.61" width="21.40" height="2.00" fill="#f2a081" />
<rect x="23.20" y="265.26" width="5.60" height="2.50" fill="#000000" />
<rect x="23.20" y="269.09" width="55.90" height="2.00" fill="#f2a081" />
<rect x="23.20" y="268.74" width="28.00" height="2.50" fill="#000000" />
<rect x="23.20" y="272.57" width="44.70" height="2.00" fill="#f2a081" />
<rect x="23.20" y="272.22" width="6.80" height="2.50" fill="#000000" />
<rect x="23.20" y="276.06" width="90.70" height="2.00" fill="#f2a081" />
<rect x="23.20" y="275.71" width="6.20" height="2.50" fill="#000000" />
<rect x="23.20" y="279.54" width="32.80" height="2.00" fill="#f2a081" />
<rect x="23.20" y="279.19" width="2.80" height="2.50" fill="#000000" />
<rect x="23.20" y="283.02" width="40.70" height="2.00" fill="#f2a081" />
<rect x="23.20" y="282.67" width="0.70" height="2.50" fill="#000000" />
<text x="21.20" y="177.15" font-size="3.5" fill="#4a4a4a" text-anchor="end" font-weight="normal" >HBB 1F, M</text>
<text x="21.20" y="180.63" font-size="3.5" fill="#4a4a4a" text-anchor="end" font-weight="normal" >HBB 8, F</text>
<text x="21.20" y="184.12" font-size="3.5" fill="#4a4a4a" text-anchor="end" font-weight="normal" >HBB 10, M</text>
<text x="21.20" y="187.60" font-size="3.5" fill="#4a4a4a" text-anchor="end" font-weight="normal" >HBB 23, F</text>
<text x="21.20" y="191.08" font-size="3.5" fill="#4a4a4a" text-anchor="end" font-weight="normal" >HBB 24, M</text>
<text x="21.20" y="194.56" font-size="3.5" fill="#4a4a4a" text-anchor="end" font-weight="normal" >HBB 4F, M</text>
<text x="21.20" y="198.05" font-size="3.5" fill="#4a4a4a" text-anchor="end" font-weight="normal" >HBB 5, F</text>
<text x="21.20" y="201.53" font-size="3.5" fill="#4a4a4a" text-anchor="end" font-weight="normal" >HBB 27, M</text>
<text x="21.20" y="205.01" font-size="3.5" fill="#4a4a4a" text-anchor="end" font-weight="normal" >HBB 11, M</text>
<text x="21.20" y="208.50" font-size="3.5" fill="#4a4a4a" text-anchor="end" font-weight="normal" >HBB 2, M</text>
<text x="21.20" y="211.98" font-size="3.5" fill="#4a4a4a" text-anchor="end" font-weight="normal" >HBB 32, M</text>
<text x="21.20" y="215.46" font-size="3.5" fill="#4a4a4a" text-anchor="end" font-weight="normal" >HBB 17, M</text>
<text x="21.20" y="218.95" font-size="3.5" fill="#4a4a4a" text-anchor="end" font-weight="normal" >HBB 12, M</text>
<text x="21.20" y="222.43" font-size="3.5" fill="#4a4a4a" text-anchor="end" font-weight="normal" >HBB 7, M</text>
<text x="21.20" y="225.91" font-size="3.5" fill="#4a4a4a" text-anchor="end" font-weight="normal" >Sepsis 16, M</text>
<text x="21.20" y="229.39" font-size="3.5" fill="#4a4a4a" text-anchor="end" font-weight="normal" >Sepsis 9, F</text>
<text x="21.20" y="232.88" font-size="3.5" fill="#4a4a4a" text-anchor="end" font-weight="normal" >Sepsis 21, M</text>
<text x="21.20" y="236.36" font-size="3.5" fill="#4a4a4a" text-anchor="end" font-weight="normal" >Sepsis 17, M</text>
<text x="21.20" y="239.84" font-size="3.5" fill="#4a4a4a" text-anchor="end" font-weight="normal" >Sepsis 1, M</text>
<text x="21.20" y="243.33" font-size="3.5" fill="#4a4a4a" text-anchor="end" font-weight="normal" >Sepsis 22, F</text>
<text x="21.20" y="246.81" font-size="3.5" fill="#4a4a4a" text-anchor="end" font-weight="normal" >TBI 5, M</text>
<text x="21.20" y="250.29" font-size="3.5" fill="#4a4a4a" text-anchor="end" font-weight="normal" >TBI 17, M</text>
<text x="21.20" y="253.78" font-size="3.5" fill="#4a4a4a" text-anchor="end" font-weight="normal" >TBI 18, M</text>
<text x="21.20" y="257.26" font-size="3.5" fill="#4a4a4a" text-anchor="end" font-weight="normal" >TBI 27, M</text>
<text x="21.20" y="260.74" font-size="3.5" fill="#4a4a4a" text-anchor="end" font-weight="normal" >TBI 28, M</text>
<text x="21.20" y="264.22" font-size="3.5" fill="#4a4a4a" text-anchor="end" font-weight="normal" >ICH 20, F</text>
<text x="21.20" y="267.71" font-size="3.5" fill="#4a4a4a" text-anchor="end" font-weight="normal" >ICH 30, M</text>
<text x="21.20" y="271.19" font-size="3.5" fill="#4a4a4a" text-anchor="end" font-weight="normal" >ICH 17, M</text>
<text x="21.20" y="274.67" font-size="3.5" fill="#4a4a4a" text-anchor="end" font-weight="normal" >SAH 23, F</text>
<text x="21.20" y="278.16" font-size="3.5" fill="#4a4a4a" text-anchor="end" font-weight="normal" >MABD 1, M</text>
<text x="21.20" y="281.64" font-size="3.5" fill="#4a4a4a" text-anchor="end" font-weight="normal" >MABD 2, M</text>
<text x="21.20" y="285.12" font-size="3.5" fill="#4a4a4a" text-anchor="end" font-weight="normal" >MABD 3, M</text>
<line x1="21.60" y1="175.95" x2="23.20" y2="175.95" stroke="#444" stroke-width="0.4"/>
<line x1="21.60" y1="179.43" x2="23.20" y2="179.43" stroke="#444" stroke-width="0.4"/>
<line x1="21.60" y1="182.92" x2="23.20" y2="182.92" stroke="#444" stroke-width="0.4"/>
<line x1="21.60" y1="186.40" x2="23.20" y2="186.40" stroke="#444" stroke-width="0.4"/>
<line x1="21.60" y1="189.88" x2="23.20" y2="189.88" stroke="#444" stroke-width="0.4"/>
<line x1="21.60" y1="193.36" x2="23.20" y2="193.36" stroke="#444" stroke-width="0.4"/>
<line x1="21.60" y1="196.85" x2="23.20" y2="196.85" stroke="#444" stroke-width="0.4"/>
<line x1="21.60" y1="200.33" x2="23.20" y2="200.33" stroke="#444" stroke-width="0.4"/>
<line x1="21.60" y1="203.81" x2="23.20" y2="203.81" stroke="#444" stroke-width="0.4"/>
<line x1="21.60" y1="207.30" x2="23.20" y2="207.30" stroke="#444" stroke-width="0.4"/>
<line x1="21.60" y1="210.78" x2="23.20" y2="210.78" stroke="#444" stroke-width="0.4"/>
<line x1="21.60" y1="214.26" x2="23.20" y2="214.26" stroke="#444" stroke-width="0.4"/>
<line x1="21.60" y1="217.75" x2="23.20" y2="217.75" stroke="#444" stroke-width="0.4"/>
<line x1="21.60" y1="221.23" x2="23.20" y2="221.23" stroke="#444" stroke-width="0.4"/>
<line x1="21.60" y1="224.71" x2="23.20" y2="224.71" stroke="#444" stroke-width="0.4"/>
<line x1="21.60" y1="228.19" x2="23.20" y2="228.19" stroke="#444" stroke-width="0.4"/>
<line x1="21.60" y1="231.68" x2="23.20" y2="231.68" stroke="#444" stroke-width="0.4"/>
<line x1="21.60" y1="235.16" x2="23.20" y2="235.16" stroke="#444" stroke-width="0.4"/>
<line x1="21.60" y1="238.64" x2="23.20" y2="238.64" stroke="#444" stroke-width="0.4"/>
<line x1="21.60" y1="242.13" x2="23.20" y2="242.13" stroke="#444" stroke-width="0.4"/>
<line x1="21.60" y1="245.61" x2="23.20" y2="245.61" stroke="#444" stroke-width="0.4"/>
<line x1="21.60" y1="249.09" x2="23.20" y2="249.09" stroke="#444" stroke-width="0.4"/>
<line x1="21.60" y1="252.58" x2="23.20" y2="252.58" stroke="#444" stroke-width="0.4"/>
<line x1="21.60" y1="256.06" x2="23.20" y2="256.06" stroke="#444" stroke-width="0.4"/>
<line x1="21.60" y1="259.54" x2="23.20" y2="259.54" stroke="#444" stroke-width="0.4"/>
<line x1="21.60" y1="263.02" x2="23.20" y2="263.02" stroke="#444" stroke-width="0.4"/>
<line x1="21.60" y1="266.51" x2="23.20" y2="266.51" stroke="#444" stroke-width="0.4"/>
<line x1="21.60" y1="269.99" x2="23.20" y2="269.99" stroke="#444" stroke-width="0.4"/>
<line x1="21.60" y1="273.47" x2="23.20" y2="273.47" stroke="#444" stroke-width="0.4"/>
<line x1="21.60" y1="276.96" x2="23.20" y2="276.96" stroke="#444" stroke-width="0.4"/>
<line x1="21.60" y1="280.44" x2="23.20" y2="280.44" stroke="#444" stroke-width="0.4"/>
<line x1="21.60" y1="283.92" x2="23.20" y2="283.92" stroke="#444" stroke-width="0.4"/>
<rect x="203.30" y="222.50" width="72.10" height="11.10" fill="#d9d9d9" stroke="#4a4a4a" stroke-width="0.6"/>
<text x="205.80" y="226.90" font-size="4.2" fill="#1a1a1a" text-anchor="start" font-weight="normal" textLength="65.50" lengthAdjust="spacingAndGlyphs">Median time to PEA: 102 [40, 204] s</text>
<text x="205.80" y="232.20" font-size="4.2" fill="#1a1a1a" text-anchor="start" font-weight="normal" textLength="64.90" lengthAdjust="spacingAndGlyphs">Median time to EA: 397 [154, 706] s</text>
<text x="0.00" y="170.80" font-size="12.2" fill="#000" text-anchor="start" font-weight="bold" stroke="#000" stroke-width="0.55">c</text>
<rect x="325.40" y="274.60" width="260.60" height="11.60" fill="#f0ece9" />
<line x1="325.40" y1="172.40" x2="325.40" y2="286.80" stroke="#666" stroke-width="0.6"/>
<line x1="325.40" y1="286.80" x2="586.00" y2="286.80" stroke="#666" stroke-width="0.7"/>
<line x1="325.40" y1="286.80" x2="325.40" y2="289.20" stroke="#666" stroke-width="0.6"/>
<text x="325.40" y="298.90" font-size="6.3" fill="#333" text-anchor="middle" font-weight="normal" >0</text>
<line x1="354.40" y1="286.80" x2="354.40" y2="289.20" stroke="#666" stroke-width="0.6"/>
<text x="354.40" y="298.90" font-size="6.3" fill="#333" text-anchor="middle" font-weight="normal" >1</text>
<line x1="383.40" y1="286.80" x2="383.40" y2="289.20" stroke="#666" stroke-width="0.6"/>
<text x="383.40" y="298.90" font-size="6.3" fill="#333" text-anchor="middle" font-weight="normal" >2</text>
<line x1="412.40" y1="286.80" x2="412.40" y2="289.20" stroke="#666" stroke-width="0.6"/>
<text x="412.40" y="298.90" font-size="6.3" fill="#333" text-anchor="middle" font-weight="normal" >3</text>
<line x1="441.40" y1="286.80" x2="441.40" y2="289.20" stroke="#666" stroke-width="0.6"/>
<text x="441.40" y="298.90" font-size="6.3" fill="#333" text-anchor="middle" font-weight="normal" >4</text>
<line x1="470.40" y1="286.80" x2="470.40" y2="289.20" stroke="#666" stroke-width="0.6"/>
<text x="470.40" y="298.90" font-size="6.3" fill="#333" text-anchor="middle" font-weight="normal" >5</text>
<line x1="499.40" y1="286.80" x2="499.40" y2="289.20" stroke="#666" stroke-width="0.6"/>
<text x="499.40" y="298.90" font-size="6.3" fill="#333" text-anchor="middle" font-weight="normal" >6</text>
<line x1="528.40" y1="286.80" x2="528.40" y2="289.20" stroke="#666" stroke-width="0.6"/>
<text x="528.40" y="298.90" font-size="6.3" fill="#333" text-anchor="middle" font-weight="normal" >7</text>
<line x1="557.40" y1="286.80" x2="557.40" y2="289.20" stroke="#666" stroke-width="0.6"/>
<text x="557.40" y="298.90" font-size="6.3" fill="#333" text-anchor="middle" font-weight="normal" >8</text>
<line x1="586.40" y1="286.80" x2="586.40" y2="289.20" stroke="#666" stroke-width="0.6"/>
<text x="586.40" y="298.90" font-size="6.3" fill="#333" text-anchor="middle" font-weight="normal" >9</text>
<text x="372.60" y="309.20" font-size="7.5" fill="#222" text-anchor="start" font-weight="normal" textLength="166.10" lengthAdjust="spacingAndGlyphs">Time from death determination to autopsy (days)</text>
<text x="580.00" y="279.20" font-size="4.2" fill="#444" text-anchor="end" font-weight="normal" >Controls</text>
<rect x="325.40" y="174.38" width="79.70" height="3.25" fill="#3a5590" />
<rect x="325.40" y="177.97" width="29.00" height="3.25" fill="#3a5590" />
<rect x="325.40" y="181.57" width="8.20" height="3.25" fill="#3a5590" />
<rect x="325.40" y="185.17" width="55.20" height="3.25" fill="#3a5590" />
<rect x="325.40" y="188.76" width="30.40" height="3.25" fill="#3a5590" />
<rect x="325.40" y="192.36" width="16.30" height="3.25" fill="#3a5590" />
<rect x="325.40" y="195.96" width="41.70" height="3.25" fill="#3a5590" />
<rect x="325.40" y="199.55" width="47.40" height="3.25" fill="#3a5590" />
<rect x="325.40" y="203.15" width="3.90" height="3.25" fill="#3a5590" />
<rect x="325.40" y="206.75" width="28.00" height="3.25" fill="#3a5590" />
<rect x="325.40" y="210.34" width="29.00" height="3.25" fill="#3a5590" />
<rect x="325.40" y="213.94" width="82.60" height="3.25" fill="#3a5590" />
<rect x="325.40" y="217.54" width="82.60" height="3.25" fill="#3a5590" />
<rect x="325.40" y="221.14" width="43.70" height="3.25" fill="#3a5590" />
<rect x="325.40" y="224.73" width="26.60" height="3.25" fill="#3a5590" />
<rect x="325.40" y="228.33" width="24.50" height="3.25" fill="#3a5590" />
<rect x="325.40" y="231.93" width="22.50" height="3.25" fill="#3a5590" />
<rect x="325.40" y="235.52" width="259.60" height="3.25" fill="#3a5590" />
<rect x="325.40" y="239.12" width="76.70" height="3.25" fill="#3a5590" />
<rect x="325.40" y="242.72" width="54.60" height="3.25" fill="#3a5590" />
<rect x="325.40" y="246.31" width="1.00" height="3.25" fill="#3a5590" />
<rect x="325.40" y="249.91" width="97.10" height="3.25" fill="#3a5590" />
<rect x="325.40" y="253.51" width="28.40" height="3.25" fill="#3a5590" />
<rect x="325.40" y="257.11" width="27.40" height="3.25" fill="#3a5590" />
<rect x="325.40" y="260.70" width="31.50" height="3.25" fill="#3a5590" />
<rect x="325.40" y="264.30" width="19.40" height="3.25" fill="#3a5590" />
<rect x="325.40" y="267.90" width="47.40" height="3.25" fill="#3a5590" />
<rect x="325.40" y="271.49" width="27.60" height="3.25" fill="#3a5590" />
<rect x="325.40" y="275.09" width="24.30" height="3.25" fill="#3a5590" />
<rect x="325.40" y="278.69" width="20.40" height="3.25" fill="#3a5590" />
<rect x="325.40" y="282.28" width="19.80" height="3.25" fill="#3a5590" />
<text x="323.40" y="177.20" font-size="3.5" fill="#4a4a4a" text-anchor="end" font-weight="normal" >Sepsis 1, M</text>
<text x="323.40" y="180.80" font-size="3.5" fill="#4a4a4a" text-anchor="end" font-weight="normal" >HBB 2, M</text>
<text x="323.40" y="184.39" font-size="3.5" fill="#4a4a4a" text-anchor="end" font-weight="normal" >HBB 3, F</text>
<text x="323.40" y="187.99" font-size="3.5" fill="#4a4a4a" text-anchor="end" font-weight="normal" >HBB 4, M</text>
<text x="323.40" y="191.59" font-size="3.5" fill="#4a4a4a" text-anchor="end" font-weight="normal" >HBB 5, M</text>
<text x="323.40" y="195.19" font-size="3.5" fill="#4a4a4a" text-anchor="end" font-weight="normal" >HBB 7, M</text>
<text x="323.40" y="198.78" font-size="3.5" fill="#4a4a4a" text-anchor="end" font-weight="normal" >HBB 8, F</text>
<text x="323.40" y="202.38" font-size="3.5" fill="#4a4a4a" text-anchor="end" font-weight="normal" >Sepsis 9, F</text>
<text x="323.40" y="205.98" font-size="3.5" fill="#4a4a4a" text-anchor="end" font-weight="normal" >HBB 10, M</text>
<text x="323.40" y="209.57" font-size="3.5" fill="#4a4a4a" text-anchor="end" font-weight="normal" >HBB 11, M</text>
<text x="323.40" y="213.17" font-size="3.5" fill="#4a4a4a" text-anchor="end" font-weight="normal" >HBB 12, M</text>
<text x="323.40" y="216.77" font-size="3.5" fill="#4a4a4a" text-anchor="end" font-weight="normal" >ICH 13, M</text>
<text x="323.40" y="220.36" font-size="3.5" fill="#4a4a4a" text-anchor="end" font-weight="normal" >Sepsis 14, M</text>
<text x="323.40" y="223.96" font-size="3.5" fill="#4a4a4a" text-anchor="end" font-weight="normal" >TBI 15, M</text>
<text x="323.40" y="227.56" font-size="3.5" fill="#4a4a4a" text-anchor="end" font-weight="normal" >HBB 16, M</text>
<text x="323.40" y="231.15" font-size="3.5" fill="#4a4a4a" text-anchor="end" font-weight="normal" >TBI 18, M</text>
<text x="323.40" y="234.75" font-size="3.5" fill="#4a4a4a" text-anchor="end" font-weight="normal" >ICH 20, F</text>
<text x="323.40" y="238.35" font-size="3.5" fill="#4a4a4a" text-anchor="end" font-weight="normal" >HBB 21, M</text>
<text x="323.40" y="241.95" font-size="3.5" fill="#4a4a4a" text-anchor="end" font-weight="normal" >Sepsis 22, F</text>
<text x="323.40" y="245.54" font-size="3.5" fill="#4a4a4a" text-anchor="end" font-weight="normal" >SAH 23, F</text>
<text x="323.40" y="249.14" font-size="3.5" fill="#4a4a4a" text-anchor="end" font-weight="normal" >HBB 24, M</text>
<text x="323.40" y="252.74" font-size="3.5" fill="#4a4a4a" text-anchor="end" font-weight="normal" >HBB 25, M</text>
<text x="323.40" y="256.33" font-size="3.5" fill="#4a4a4a" text-anchor="end" font-weight="normal" >ICH 26, M</text>
<text x="323.40" y="259.93" font-size="3.5" fill="#4a4a4a" text-anchor="end" font-weight="normal" >TBI 27, M</text>
<text x="323.40" y="263.53" font-size="3.5" fill="#4a4a4a" text-anchor="end" font-weight="normal" >TBI 28, M</text>
<text x="323.40" y="267.12" font-size="3.5" fill="#4a4a4a" text-anchor="end" font-weight="normal" >HBB 29, F</text>
<text x="323.40" y="270.72" font-size="3.5" fill="#4a4a4a" text-anchor="end" font-weight="normal" >Sepsis 31, M</text>
<text x="323.40" y="274.32" font-size="3.5" fill="#4a4a4a" text-anchor="end" font-weight="normal" >HBB 32, M</text>
<text x="323.40" y="277.92" font-size="3.5" fill="#4a4a4a" text-anchor="end" font-weight="normal" >MABD 1, M</text>
<text x="323.40" y="281.51" font-size="3.5" fill="#4a4a4a" text-anchor="end" font-weight="normal" >MABD 2, M</text>
<text x="323.40" y="285.11" font-size="3.5" fill="#4a4a4a" text-anchor="end" font-weight="normal" >MABD 3, M</text>
<line x1="323.80" y1="176.00" x2="325.40" y2="176.00" stroke="#444" stroke-width="0.4"/>
<line x1="323.80" y1="179.60" x2="325.40" y2="179.60" stroke="#444" stroke-width="0.4"/>
<line x1="323.80" y1="183.19" x2="325.40" y2="183.19" stroke="#444" stroke-width="0.4"/>
<line x1="323.80" y1="186.79" x2="325.40" y2="186.79" stroke="#444" stroke-width="0.4"/>
<line x1="323.80" y1="190.39" x2="325.40" y2="190.39" stroke="#444" stroke-width="0.4"/>
<line x1="323.80" y1="193.99" x2="325.40" y2="193.99" stroke="#444" stroke-width="0.4"/>
<line x1="323.80" y1="197.58" x2="325.40" y2="197.58" stroke="#444" stroke-width="0.4"/>
<line x1="323.80" y1="201.18" x2="325.40" y2="201.18" stroke="#444" stroke-width="0.4"/>
<line x1="323.80" y1="204.78" x2="325.40" y2="204.78" stroke="#444" stroke-width="0.4"/>
<line x1="323.80" y1="208.37" x2="325.40" y2="208.37" stroke="#444" stroke-width="0.4"/>
<line x1="323.80" y1="211.97" x2="325.40" y2="211.97" stroke="#444" stroke-width="0.4"/>
<line x1="323.80" y1="215.57" x2="325.40" y2="215.57" stroke="#444" stroke-width="0.4"/>
<line x1="323.80" y1="219.16" x2="325.40" y2="219.16" stroke="#444" stroke-width="0.4"/>
<line x1="323.80" y1="222.76" x2="325.40" y2="222.76" stroke="#444" stroke-width="0.4"/>
<line x1="323.80" y1="226.36" x2="325.40" y2="226.36" stroke="#444" stroke-width="0.4"/>
<line x1="323.80" y1="229.95" x2="325.40" y2="229.95" stroke="#444" stroke-width="0.4"/>
<line x1="323.80" y1="233.55" x2="325.40" y2="233.55" stroke="#444" stroke-width="0.4"/>
<line x1="323.80" y1="237.15" x2="325.40" y2="237.15" stroke="#444" stroke-width="0.4"/>
<line x1="323.80" y1="240.75" x2="325.40" y2="240.75" stroke="#444" stroke-width="0.4"/>
<line x1="323.80" y1="244.34" x2="325.40" y2="244.34" stroke="#444" stroke-width="0.4"/>
<line x1="323.80" y1="247.94" x2="325.40" y2="247.94" stroke="#444" stroke-width="0.4"/>
<line x1="323.80" y1="251.54" x2="325.40" y2="251.54" stroke="#444" stroke-width="0.4"/>
<line x1="323.80" y1="255.13" x2="325.40" y2="255.13" stroke="#444" stroke-width="0.4"/>
<line x1="323.80" y1="258.73" x2="325.40" y2="258.73" stroke="#444" stroke-width="0.4"/>
<line x1="323.80" y1="262.33" x2="325.40" y2="262.33" stroke="#444" stroke-width="0.4"/>
<line x1="323.80" y1="265.93" x2="325.40" y2="265.93" stroke="#444" stroke-width="0.4"/>
<line x1="323.80" y1="269.52" x2="325.40" y2="269.52" stroke="#444" stroke-width="0.4"/>
<line x1="323.80" y1="273.12" x2="325.40" y2="273.12" stroke="#444" stroke-width="0.4"/>
<line x1="323.80" y1="276.72" x2="325.40" y2="276.72" stroke="#444" stroke-width="0.4"/>
<line x1="323.80" y1="280.31" x2="325.40" y2="280.31" stroke="#444" stroke-width="0.4"/>
<line x1="323.80" y1="283.91" x2="325.40" y2="283.91" stroke="#444" stroke-width="0.4"/>
<rect x="498.40" y="209.60" width="74.20" height="11.90" fill="#d9d9d9" stroke="#4a4a4a" stroke-width="0.6"/>
<text x="501.70" y="214.40" font-size="4.2" fill="#1a1a1a" text-anchor="start" font-weight="normal" textLength="67.80" lengthAdjust="spacingAndGlyphs">Median time to autopsy: 24 [15, 42] h</text>
<text x="501.70" y="219.60" font-size="4.2" fill="#1a1a1a" text-anchor="start" font-weight="normal" textLength="64.20" lengthAdjust="spacingAndGlyphs">Range of time to autopsy: (3–215) h</text>
<text x="304.10" y="170.80" font-size="12.2" fill="#000" text-anchor="start" font-weight="bold" stroke="#000" stroke-width="0.55">d</text>
<text x="133.30" y="337.00" font-size="7.3" fill="#222" text-anchor="start" font-weight="normal" textLength="35.60" lengthAdjust="spacingAndGlyphs">Time point</text>
<path d="M175.9,333.2 L177.6,334.9 L175.9,336.6 L174.2,334.9 Z" fill="#1f8a7a"/>
<text x="182.90" y="333.80" font-size="6.3" fill="#222" text-anchor="start" font-weight="normal" textLength="21.60" lengthAdjust="spacingAndGlyphs">Systolic</text>
<text x="182.90" y="340.00" font-size="6.3" fill="#222" text-anchor="start" font-weight="normal" textLength="30.90" lengthAdjust="spacingAndGlyphs">&lt;60 mmHg</text>
<circle cx="228.7" cy="334.6" r="1.5" fill="#fff" stroke="#333" stroke-width="0.55"/>
<text x="235.10" y="336.70" font-size="6.3" fill="#222" text-anchor="start" font-weight="normal" textLength="30.70" lengthAdjust="spacingAndGlyphs">Last breath</text>
<rect x="279.20" y="330.80" width="7.70" height="7.70" fill="#e14b33" stroke="#333" stroke-width="0.45"/>
<rect x="331.90" y="330.90" width="7.70" height="7.70" fill="#4bb7d6" stroke="#333" stroke-width="0.45"/>
<rect x="384.60" y="330.80" width="7.70" height="7.70" fill="#000000" stroke="#333" stroke-width="0.45"/>
<rect x="422.10" y="330.80" width="7.70" height="7.70" fill="#f2a081" stroke="#333" stroke-width="0.45"/>
<text x="291.80" y="332.90" font-size="6.3" fill="#222" text-anchor="start" font-weight="normal" textLength="16.00" lengthAdjust="spacingAndGlyphs">MCAv</text>
<text x="291.80" y="340.20" font-size="6.3" fill="#222" text-anchor="start" font-weight="normal" textLength="25.90" lengthAdjust="spacingAndGlyphs">cessation</text>
<text x="344.40" y="332.80" font-size="6.3" fill="#222" text-anchor="start" font-weight="normal" textLength="14.50" lengthAdjust="spacingAndGlyphs">PCAv</text>
<text x="344.40" y="340.00" font-size="6.3" fill="#222" text-anchor="start" font-weight="normal" textLength="26.10" lengthAdjust="spacingAndGlyphs">cessation</text>
<text x="397.00" y="336.70" font-size="6.3" fill="#222" text-anchor="start" font-weight="normal" textLength="10.90" lengthAdjust="spacingAndGlyphs">PEA</text>
<text x="434.00" y="336.80" font-size="6.3" fill="#222" text-anchor="start" font-weight="normal" textLength="26.10" lengthAdjust="spacingAndGlyphs">Electrical</text>
<text x="434.00" y="343.70" font-size="6.3" fill="#222" text-anchor="start" font-weight="normal" textLength="22.30" lengthAdjust="spacingAndGlyphs">asystole</text>
<g id="photo-e">
  <defs>
    <radialGradient id="eslice" cx="0.45" cy="0.5" r="0.7">
      <stop offset="0" stop-color="#f6e2cc"/><stop offset="0.5" stop-color="#f2d4b4"/><stop offset="0.85" stop-color="#e2b08a"/><stop offset="1" stop-color="#a0603e"/>
    </radialGradient>
    <radialGradient id="ehem" cx="0.45" cy="0.6" r="0.6">
      <stop offset="0" stop-color="#5a2c1a"/><stop offset="0.5" stop-color="#3e1a0e"/><stop offset="0.85" stop-color="#220a04"/><stop offset="1" stop-color="#5a3020"/>
    </radialGradient>
    <filter id="eblur" x="-10%" y="-10%" width="120%" height="120%"><feGaussianBlur stdDeviation="0.6"/></filter>
  </defs>
  <rect x="592.9" y="0" width="89.5" height="67.9" fill="#bcb08e"/>
  <g filter="url(#eblur)">
  <path d="M593.4,40.6 C594.5,35 596,32 597.7,30.5 C600,27.5 603,25.5 606.4,24.7 C610,23 614,21 618,20.3 L619.5,16 C619.8,13 620,10.5 621,8.7 C622.3,6.8 623.5,6 625.3,5.2 C628,4 632,3.5 635.4,3.5 C639,3.6 641,3.9 644,4.4 C647.5,5.5 650,7 652.8,8.7 C654.5,10.5 656,12.5 657.2,14.5 C658.5,16.5 660,18 661.5,18.9 C664.5,20.5 667.5,21.8 670.2,23.2 C673.5,25.5 675.8,28.5 677.5,31.9 C679,34.5 680,37.5 680.4,40.6 C680.5,44 680.2,46.5 679.5,49.3 C678.3,52 676.7,54.6 674.6,56.6 C671.5,59.3 668,61.2 664.4,62.4 C660.5,63.6 656.8,64.3 652.8,64.4 C649.5,64.4 646.8,64.2 644,63.8 C642,62.5 640.8,61 639.8,59.5 C638.8,61.2 637.9,62.8 636.9,63.8 C633.5,64.2 630,64.5 626.7,64.4 C621.5,64 616.8,63.4 612.2,62.4 C607.5,61 603.8,59 600.6,56.6 C598,54.5 596,52 594.8,49.3 C593.8,46.5 593.3,43.5 593.4,40.6 Z" fill="url(#eslice)"/>
  <path d="M619.3,18.8 C619.5,15 620,12 620.8,10.1 C622.5,7.5 624.5,6 626.6,5.1 C629,4 631.5,3.6 633.8,3.6 C637,3.5 641,3.4 644,3.6 C647,4.5 649.5,5.8 651.2,7.2 C652.5,8.7 653.5,10 654.1,11.6 C655,12.8 656,13.8 657,14.5 L651.2,8.5 C647,7 640,6.5 633.8,8 C631,12 629,17 628,21.7 C625,21 622,20 619.3,18.8 Z" fill="#f2e0cc"/>
  <path d="M633.8,8 C640,6.5 647,7 651.2,8.5 C654,10.5 656.5,12.5 657.5,14.5 C658.5,17 659,20 658.5,22 C658,25 657,27 655.6,29 C654,33 652,36.5 649.8,39.1 C648,41 646,43 644,43.5 C641,42 639,40.5 636.7,39.1 C633,38 631,37.5 629.5,36.2 C628.5,32 628,27 628,21.7 C629,17 631,12 633.8,8 Z" fill="#3a1a0e"/>
  
  <path d="M634,9.5 C640,8 647,8.5 651,10 C653,12 652,15 648,15.5 C642,16 637,15 633,14 Z" fill="#1e0803"/>
  <path d="M636,19 C640,17 646,17.5 649,21 C650,25 647,28 642,28 C638,27.5 635,24 636,19 Z" fill="#7a4230" opacity="0.85"/>
  <path d="M644,22 C647,21 650,23 650,26 C648,27 645,26 644,22 Z" fill="#a0644a" opacity="0.7"/>
  <path d="M632,30 C637,29 644,30 650,33 C648,37 645,40 643,41 C639,40 634,37 632,34 Z" fill="#3a2a22" opacity="0.9"/>
  <path d="M629,22 C631,20 633,21 633,25 C632,28 630,28 629,26 Z" fill="#1e0803" opacity="0.8"/>
  <path d="M652,16 C656,18 657,23 655,28 C653,26 652,21 652,16 Z" fill="#5a2414" opacity="0.8"/>
  <path d="M598,37 C608,37 618,42 628,50 C632,53 636,57 639,60 M597,47 C607,50 618,54 628,58 C632,60 635,62 637,63 M652,50 C660,47 668,45 677,44 M611,27 C616,31 621,37 626,44 M646,58 C655,56 663,56 672,55 M661,36 C667,37 672,38 678,38 M604,30 C612,33 620,38 627,45 M660,44 C666,44 672,42 678,41 M645,45 C652,43 660,42 668,36" stroke="#b8805e" stroke-width="0.55" fill="none" opacity="0.85"/>
  <path d="M661.5,18.9 C667,21 673,25 677.5,31.9 C679.5,36 680.4,40 680.4,44" stroke="#8e4c2e" stroke-width="1.2" fill="none" opacity="0.7"/>
  <path d="M600.6,56.6 C606,60 614,63 626.7,64.4 M652.8,64.4 C660,64 668,61 674.6,56.6" stroke="#b57a5e" stroke-width="0.6" fill="none" opacity="0.7"/>
  <path d="M593.4,40.6 C593.3,44 593.8,47 594.8,49.3 L596,48 L596,36 Z" fill="#7c4430" opacity="0.8"/>
  </g>
  <path d="M654.2,15.8 L648,21.2" stroke="#fff" stroke-width="1.1"/>
  <path d="M647.2,22 L647.8,18.4 L650.6,20.9 Z" fill="#fff"/>
  <text x="595.3" y="9.1" font-size="12.2" font-weight="bold" fill="#000" stroke="#000" stroke-width="0.55">e</text>
</g>
<g id="photo-f">
  <defs>
    <filter id="blur1" x="-20%" y="-20%" width="140%" height="140%"><feGaussianBlur stdDeviation="2.2"/></filter>
    <filter id="blur05" x="-20%" y="-20%" width="140%" height="140%"><feGaussianBlur stdDeviation="0.45"/></filter>
    <linearGradient id="fbg" x1="0" y1="0" x2="1" y2="1"><stop offset="0" stop-color="#b2aea6"/><stop offset="1" stop-color="#aaa69e"/></linearGradient>
  </defs>
  <rect x="592.8" y="87.0" width="91.7" height="121.9" fill="url(#fbg)"/>
  <g filter="url(#blur1)" opacity="0.8">
    <path d="M612,118 C625,116 640,122 655,126 C665,124 676,120 684,122 L684,136 C670,136 655,138 640,134 C628,131 618,128 612,126 Z" fill="#6a6862"/>
    <path d="M615,150 C630,146 648,140 665,140 C672,140 678,142 684,143 L684,152 C668,152 650,154 632,158 Z" fill="#777570"/>
    <ellipse cx="668" cy="124" rx="7" ry="5" fill="#4e4c48"/>
    <path d="M670,165 C676,175 680,185 680,195 L674,195 C672,185 670,175 666,168 Z" fill="#8e8b84"/>
    <path d="M612,103 C620,98 628,106 636,112 L630,118 C622,114 616,110 612,108 Z" fill="#85827b"/>
  </g>
  <path d="M592.8,126.9 L616.2,132.7 L615.5,148.4 L592.8,144.5 Z" fill="#efe7cf"/>
  <path d="M599,143 L599.6,134.5 C603.5,133.2 606.2,135.2 604.6,137.8 C603.2,139.2 601.4,139.4 600.2,139.2 M602.2,139.3 L606.2,143" stroke="#2a2a2a" stroke-width="0.85" fill="none" stroke-linecap="round"/>
  <g fill="none" stroke-linecap="round" stroke-linejoin="round" filter="url(#blur05)">
    <path d="M640,86 C636,90 633,96 633.8,103.4 C635,108 640,111 645,114 C650,117 653,120 654,124" stroke="#ead2c0" stroke-width="1.6"/>
    <path d="M644,87 C645,93 647,99 648.5,104 C650,109 652,113 655,117" stroke="#e4c4ae" stroke-width="1.3"/>
    <path d="M637,88 C632,92 629,98 630,104 C631,108 634,110 638,112" stroke="#d8b09a" stroke-width="1"/>
    <path d="M618,106 C621,104 625,105 627,108 C628,111 625,113 622,115 C619,117 618,120 617,123" stroke="#dcb098" stroke-width="1.4"/>
    <path d="M628,104 C631,101 634,104 633,108" stroke="#c89078" stroke-width="1"/>
    <path d="M618.2,119 C624,118.5 630,119 636,121 C640,122.5 643.6,124.9 647,126.5 C650,127.6 652,128.2 653.4,128.8" stroke="#ecdcc4" stroke-width="4"/>
    <path d="M622,118.8 C630,119.5 638,122 646,126" stroke="#c8927a" stroke-width="1" opacity="0.8"/>
    <path d="M653.4,128.8 C656,126 657.5,122 658.5,116 C659,112 660,109 661,107" stroke="#c88a6c" stroke-width="2.8"/>
    <path d="M653.4,128.8 C658,128 663,126 668,124 C673,123 678,124 684,122" stroke="#d49c80" stroke-width="4.2"/>
    <path d="M660,130 C665,127 671,126 676,128 C679,129 682,128 684,127" stroke="#9a5a44" stroke-width="2"/>
    <path d="M665,116 C667,119 668,122 667,125 M672,118 C673,121 675,123 678,124 M681,112 C682,116 683,120 684,121" stroke="#b87a60" stroke-width="2.4"/>
    <path d="M624,152.3 C632,150 640,147 648,145 C652,144 655.3,142.5 660,142 C668,141 675,140.5 684,140.5" stroke="#b4745a" stroke-width="4.2"/>
    <path d="M630,150 C640,147 652,144 664,142 C672,141 678,141 684,141" stroke="#7e4434" stroke-width="1.4" opacity="0.8"/>
    <path d="M640,148 C643,144 646,143 650,144 M668,140 C671,136 675,135 679,136" stroke="#cc9278" stroke-width="2.2"/>
    <path d="M624,148.4 C626,151 627,154 628,156 M621,153 C624,152 627,151 630,151" stroke="#b4745a" stroke-width="1.8"/>
    <path d="M657.3,144.5 C659,152 661,160 663,170 C664,176 664.5,181 665,185.5 C666,188 667,190 668,192" stroke="#eedcc2" stroke-width="4.2"/>
    <path d="M668,192 C665,195 662,198 660,201 C658.5,203.5 657.5,205.5 657,207" stroke="#f0e0c8" stroke-width="5"/>
    <path d="M671,192 C674,194 677,196 678.8,198 C677,201 673,204 667,206" stroke="#e8d0b4" stroke-width="4.4"/>
    <path d="M670,197 C667,200 664,203 662,206" stroke="#3a302a" stroke-width="1.2"/>
    <path d="M673,190 C676,189 680,189 684,190" stroke="#d4a088" stroke-width="2"/>
  </g>
  <g fill="none" stroke-linecap="round" stroke-linejoin="round" filter="url(#blur05)">
    <path d="M624,112 C628,108 633,108 636,112 C638,116 640,120 642,123" stroke="#e2c8b4" stroke-width="2.2"/>
    <path d="M616,121 C614,118 615,114 618,112" stroke="#c88a70" stroke-width="1.8"/>
    <path d="M636,104 C640,100 646,100 648,104 C650,108 650,112 652,116" stroke="#d8b09c" stroke-width="1.4"/>
    <path d="M656,117 C660,114 664,113 668,114 C672,116 675,118 678,118" stroke="#a86048" stroke-width="2.6"/>
    <path d="M664,126 C668,130 672,132 678,132 C681,132 683,131 684,130" stroke="#b87058" stroke-width="2.4"/>
    <path d="M646,146 C650,150 654,152 658,150 M632,150 C634,154 632,157 628,158 M676,141 C679,145 682,148 684,148" stroke="#a85c44" stroke-width="2.4"/>
    <path d="M640,147 C646,144 652,143 657,144" stroke="#e4ccb4" stroke-width="1.4"/>
    <path d="M660,142 C662,138 664,134 664,130" stroke="#c48068" stroke-width="2.4"/>
  </g>
  <path d="M675.2,115.4 L669.8,120.9" stroke="#fff" stroke-width="1.1"/>
  <path d="M669,121.7 L669.6,118.2 L672.3,120.6 Z" fill="#fff"/>
  <rect x="594.8" y="166.7" width="52.7" height="42.2" fill="#97928a" stroke="#1a1a1a" stroke-width="1"/>
  <g filter="url(#blur1)" opacity="0.7">
    <ellipse cx="630" cy="196" rx="9" ry="6" fill="#5e5a54"/>
    <ellipse cx="606" cy="180" rx="8" ry="4" fill="#7a766f"/>
  </g>
  <g fill="none" stroke-linecap="round" stroke-linejoin="round" filter="url(#blur05)">
    <path d="M595.5,169.8 C603,171 612,173 620,175 C622,176 624,176.5 626,177" stroke="#e0bca2" stroke-width="2.4"/>
    <path d="M620,168 C621,174 622,180 621,186 C622,192 623,198 624,205" stroke="#b87a60" stroke-width="3"/>
    <path d="M628,168 C627,172 625,176 623,180" stroke="#d4a084" stroke-width="1.6"/>
    <path d="M597,190 C603,191 608,192 612,194 C610,199 607,203 604,207.5" stroke="#f2e6d2" stroke-width="8"/>
    <ellipse cx="609.5" cy="193.5" rx="2.6" ry="2.2" fill="#b08860" stroke="none"/>
    <circle cx="628.5" cy="186" r="3.2" stroke="#b06a50" stroke-width="2.2"/>
    <path d="M632,190 C636,190.5 641,191 646.5,192" stroke="#ecd8c0" stroke-width="4.4"/>
    <path d="M632,194 C634,197 636,199 640,200" stroke="#cc9278" stroke-width="2"/>
    <path d="M630,182 C634,181 638,182 641,184" stroke="#d09a80" stroke-width="1.6"/>
  </g>
  <path d="M638.9,175.4 L633.7,180.6" stroke="#fff" stroke-width="1"/>
  <path d="M633,181.3 L633.5,178 L636.1,180.4 Z" fill="#fff"/>
  <text x="596.6" y="97.6" font-size="12.2" font-weight="bold" fill="#000" stroke="#000" stroke-width="0.55">f</text>
</g>
<g id="photo-g">
  <defs><filter id="gblur" x="-10%" y="-10%" width="120%" height="120%"><feGaussianBlur stdDeviation="0.9"/></filter></defs>
  <rect x="593.3" y="228.3" width="90.4" height="70.4" fill="#e9cce3"/>
  <g filter="url(#gblur)">
    <path d="M635,229 C650,231 665,233 684,230 L684,248 C672,247 660,246 650,244 C642,242 637,236 635,229 Z" fill="#f0e2ee"/>
    <path d="M594,256.5 C604,256 614,257 622,258.5 C626,259.5 628,260.5 630,262 C626,263.5 618,263 610,262 C604,261.5 598,261.5 594,261.5 Z" fill="#f2eaf0"/>
    <path d="M594,266 C604,265 614,266 622,268 C614,270 604,270 594,270 Z" fill="#efe0ec" opacity="0.8"/>
    <path d="M594,285 C610,283 630,284 650,282 C665,281 676,283 684,282 L684,288 C670,288 650,289 630,290 C615,290 604,289 594,289 Z" fill="#eed8e8" opacity="0.6"/>
  </g>
  <path d="M622.8,263 C625,261 627,259.5 631,258.8 C638,257 643,254.5 648,253.8 C655,253.5 660,256 664.8,258.8 C668,260.5 672,262 675.3,263 C679,264.5 682,266 684,267 L684,273.5 C680,273 675,272 669,271.4 C662,270.5 655,270 648,269.3 C642,268.8 636,268 631.2,267.2 C628,266 625,264.5 622.8,263 Z" fill="#f0f0f3"/>
  <ellipse cx="608.2" cy="253.5" rx="2.6" ry="2.2" fill="#de8fbf"/>
  <ellipse cx="608.2" cy="253.5" rx="1" ry="0.9" fill="#f3d6e6"/>
  <ellipse cx="621.2" cy="256.4" rx="3.6" ry="2" fill="#dc92bd"/>
  <circle cx="672" cy="260.7" r="3" fill="#e9b4d4" stroke="#d77aae" stroke-width="1.2"/>
  <circle cx="672" cy="260.7" r="0.9" fill="#c8508a"/>
  <g stroke="#3e4658" stroke-width="0.75" fill="#3e4658">
    <path d="M616.9,262.2 L612,257.6"/><path d="M611,256.8 L614.2,257.4 L611.8,259.8 Z"/>
    <path d="M631.4,265 L626.3,259.8"/><path d="M625.5,259 L628.6,259.8 L626.3,262.1 Z"/>
    <path d="M661.8,268 L668.2,263.2"/><path d="M669,262.6 L667.9,265.6 L665.9,262.9 Z"/>
  </g>
  <g opacity="0.85"><circle cx="615.2" cy="266.6" r="0.44" fill="#b070b0"/><circle cx="649.7" cy="233.5" r="0.35" fill="#b070b0"/><circle cx="617.1" cy="245.2" r="0.60" fill="#b070b0"/><circle cx="629.3" cy="288.4" r="0.41" fill="#9a6cae"/><circle cx="660.0" cy="275.3" r="0.37" fill="#a878b8"/><circle cx="620.8" cy="231.1" r="0.57" fill="#b070b0"/><circle cx="646.9" cy="292.5" r="0.45" fill="#b070b0"/><circle cx="629.2" cy="284.3" r="0.46" fill="#9a6cae"/><circle cx="672.2" cy="235.7" r="0.38" fill="#9a6cae"/><circle cx="617.0" cy="275.4" r="0.54" fill="#c088c8"/><circle cx="631.5" cy="286.5" r="0.49" fill="#b070b0"/><circle cx="646.0" cy="291.4" r="0.52" fill="#a878b8"/><circle cx="670.2" cy="297.4" r="0.52" fill="#9a6cae"/><circle cx="656.2" cy="251.5" r="0.49" fill="#a878b8"/><circle cx="657.5" cy="243.6" r="0.56" fill="#c088c8"/><circle cx="619.4" cy="233.4" r="0.56" fill="#b070b0"/><circle cx="601.9" cy="284.2" r="0.45" fill="#9a6cae"/><circle cx="595.8" cy="258.5" r="0.45" fill="#a878b8"/><circle cx="597.9" cy="271.4" r="0.36" fill="#c088c8"/><circle cx="643.0" cy="292.6" r="0.42" fill="#9a6cae"/><circle cx="682.9" cy="250.4" r="0.37" fill="#a878b8"/><circle cx="678.5" cy="296.0" r="0.42" fill="#c088c8"/><circle cx="607.9" cy="231.9" r="0.57" fill="#c088c8"/><circle cx="626.1" cy="238.5" r="0.57" fill="#b070b0"/><circle cx="632.4" cy="278.7" r="0.41" fill="#c088c8"/><circle cx="632.9" cy="246.8" r="0.43" fill="#c088c8"/><circle cx="595.0" cy="257.6" r="0.49" fill="#a878b8"/><circle cx="627.5" cy="269.7" r="0.38" fill="#c088c8"/><circle cx="635.5" cy="275.9" r="0.44" fill="#c088c8"/><circle cx="659.7" cy="230.5" r="0.37" fill="#a878b8"/><circle cx="679.7" cy="246.3" r="0.46" fill="#c088c8"/><circle cx="609.8" cy="241.8" r="0.54" fill="#c088c8"/><circle cx="620.7" cy="255.0" r="0.54" fill="#a878b8"/><circle cx="680.5" cy="276.2" r="0.38" fill="#9a6cae"/><circle cx="652.2" cy="247.6" r="0.43" fill="#b070b0"/><circle cx="651.8" cy="235.7" r="0.50" fill="#c088c8"/><circle cx="654.1" cy="244.5" r="0.55" fill="#9a6cae"/><circle cx="601.1" cy="280.2" r="0.40" fill="#b070b0"/><circle cx="618.1" cy="283.3" r="0.36" fill="#9a6cae"/><circle cx="622.0" cy="286.7" r="0.49" fill="#c088c8"/><circle cx="624.3" cy="286.1" r="0.37" fill="#c088c8"/><circle cx="640.1" cy="287.6" r="0.47" fill="#b070b0"/><circle cx="619.8" cy="268.2" r="0.36" fill="#b070b0"/><circle cx="607.9" cy="229.3" r="0.59" fill="#b070b0"/><circle cx="643.7" cy="297.0" r="0.53" fill="#a878b8"/><circle cx="660.4" cy="286.7" r="0.52" fill="#c088c8"/><circle cx="642.4" cy="290.4" r="0.57" fill="#c088c8"/><circle cx="604.7" cy="245.9" r="0.36" fill="#9a6cae"/><circle cx="673.8" cy="291.1" r="0.49" fill="#a878b8"/><circle cx="636.8" cy="237.3" r="0.48" fill="#9a6cae"/><circle cx="630.8" cy="293.8" r="0.50" fill="#c088c8"/><circle cx="605.2" cy="296.1" r="0.49" fill="#a878b8"/><circle cx="625.3" cy="242.6" r="0.48" fill="#a878b8"/><circle cx="609.2" cy="283.6" r="0.58" fill="#9a6cae"/><circle cx="667.3" cy="229.5" r="0.51" fill="#b070b0"/><circle cx="598.4" cy="247.7" r="0.42" fill="#b070b0"/><circle cx="598.5" cy="251.3" r="0.55" fill="#a878b8"/><circle cx="663.0" cy="232.2" r="0.36" fill="#b070b0"/><circle cx="680.7" cy="288.0" r="0.37" fill="#b070b0"/><circle cx="622.1" cy="250.7" r="0.44" fill="#b070b0"/><circle cx="646.2" cy="253.9" r="0.40" fill="#c088c8"/><circle cx="632.2" cy="237.8" r="0.35" fill="#b070b0"/><circle cx="597.8" cy="260.8" r="0.51" fill="#b070b0"/><circle cx="650.7" cy="232.0" r="0.57" fill="#a878b8"/><circle cx="627.1" cy="263.2" r="0.53" fill="#b070b0"/><circle cx="595.6" cy="244.1" r="0.42" fill="#a878b8"/><circle cx="665.5" cy="244.5" r="0.38" fill="#a878b8"/><circle cx="677.3" cy="254.8" r="0.57" fill="#c088c8"/><circle cx="604.8" cy="276.6" r="0.58" fill="#b070b0"/><circle cx="653.4" cy="279.6" r="0.49" fill="#a878b8"/><circle cx="666.2" cy="278.4" r="0.47" fill="#9a6cae"/><circle cx="662.9" cy="232.1" r="0.37" fill="#a878b8"/><circle cx="652.7" cy="254.9" r="0.55" fill="#c088c8"/><circle cx="668.9" cy="237.4" r="0.56" fill="#b070b0"/><circle cx="668.4" cy="294.7" r="0.49" fill="#a878b8"/><circle cx="597.2" cy="282.0" r="0.48" fill="#9a6cae"/><circle cx="603.5" cy="280.7" r="0.58" fill="#a878b8"/><circle cx="643.0" cy="289.0" r="0.40" fill="#a878b8"/><circle cx="615.5" cy="241.4" r="0.41" fill="#b070b0"/><circle cx="616.5" cy="270.4" r="0.58" fill="#b070b0"/><circle cx="680.0" cy="254.9" r="0.41" fill="#b070b0"/><circle cx="669.1" cy="295.7" r="0.45" fill="#b070b0"/><circle cx="607.9" cy="256.7" r="0.57" fill="#9a6cae"/><circle cx="602.5" cy="280.6" r="0.58" fill="#b070b0"/><circle cx="646.2" cy="288.2" r="0.38" fill="#9a6cae"/><circle cx="607.0" cy="264.6" r="0.58" fill="#c088c8"/><circle cx="653.8" cy="288.0" r="0.50" fill="#c088c8"/><circle cx="673.2" cy="250.2" r="0.42" fill="#b070b0"/><circle cx="611.9" cy="268.3" r="0.41" fill="#b070b0"/><circle cx="662.9" cy="238.9" r="0.60" fill="#b070b0"/><circle cx="656.4" cy="243.2" r="0.50" fill="#a878b8"/><circle cx="636.8" cy="278.7" r="0.56" fill="#b070b0"/><circle cx="663.7" cy="289.8" r="0.36" fill="#9a6cae"/><circle cx="673.3" cy="273.7" r="0.54" fill="#a878b8"/><circle cx="679.3" cy="287.9" r="0.41" fill="#9a6cae"/><circle cx="663.0" cy="238.5" r="0.51" fill="#a878b8"/><circle cx="674.1" cy="246.6" r="0.57" fill="#c088c8"/><circle cx="610.3" cy="235.3" r="0.55" fill="#a878b8"/><circle cx="602.2" cy="286.5" r="0.42" fill="#c088c8"/><circle cx="634.3" cy="279.7" r="0.43" fill="#a878b8"/><circle cx="623.8" cy="259.1" r="0.47" fill="#9a6cae"/><circle cx="651.3" cy="280.2" r="0.47" fill="#9a6cae"/><circle cx="642.4" cy="237.2" r="0.42" fill="#b070b0"/><circle cx="604.0" cy="290.2" r="0.58" fill="#a878b8"/><circle cx="641.0" cy="277.3" r="0.52" fill="#c088c8"/><circle cx="661.4" cy="249.4" r="0.52" fill="#c088c8"/><circle cx="603.5" cy="294.2" r="0.43" fill="#a878b8"/><circle cx="599.3" cy="249.3" r="0.53" fill="#9a6cae"/><circle cx="651.5" cy="279.4" r="0.39" fill="#c088c8"/><circle cx="673.2" cy="274.2" r="0.38" fill="#9a6cae"/><circle cx="676.0" cy="273.5" r="0.51" fill="#b070b0"/><circle cx="643.4" cy="273.7" r="0.46" fill="#c088c8"/><circle cx="663.6" cy="277.7" r="0.38" fill="#9a6cae"/><circle cx="659.8" cy="253.8" r="0.42" fill="#b070b0"/><circle cx="598.8" cy="238.4" r="0.47" fill="#c088c8"/><circle cx="616.0" cy="282.1" r="0.44" fill="#c088c8"/><circle cx="666.0" cy="233.8" r="0.47" fill="#a878b8"/><circle cx="607.5" cy="269.7" r="0.52" fill="#a878b8"/><circle cx="610.5" cy="242.1" r="0.45" fill="#b070b0"/><circle cx="666.6" cy="280.7" r="0.50" fill="#9a6cae"/><circle cx="670.5" cy="284.1" r="0.49" fill="#9a6cae"/><circle cx="644.6" cy="242.9" r="0.41" fill="#c088c8"/><circle cx="596.7" cy="284.4" r="0.57" fill="#b070b0"/><circle cx="622.1" cy="291.5" r="0.43" fill="#b070b0"/><circle cx="681.0" cy="276.4" r="0.42" fill="#b070b0"/><circle cx="596.7" cy="242.1" r="0.51" fill="#a878b8"/><circle cx="662.6" cy="274.7" r="0.47" fill="#b070b0"/></g>
  <text x="596.2" y="238.3" font-size="12.2" font-weight="bold" fill="#000" stroke="#000" stroke-width="0.55">g</text>
  <text x="681.5" y="292.6" font-size="4.3" fill="#111" text-anchor="end">50 μm</text>
  <rect x="671.4" y="294.6" width="10.1" height="2.4" fill="#000"/>
</g>

<defs><linearGradient id="stripe0" x1="0" y1="0" x2="0" y2="1"><stop offset="0" stop-color="#6e3026"/><stop offset="0.28" stop-color="#6e3026"/><stop offset="0.28" stop-color="#3a2a28"/><stop offset="0.45" stop-color="#3a2a28"/><stop offset="0.45" stop-color="#2b6270"/><stop offset="0.75" stop-color="#2b6270"/><stop offset="0.75" stop-color="#b2abab"/><stop offset="1" stop-color="#b2abab"/></linearGradient><linearGradient id="stripe1" x1="0" y1="0" x2="0" y2="1"><stop offset="0" stop-color="#5e2a22"/><stop offset="0.25" stop-color="#5e2a22"/><stop offset="0.25" stop-color="#443d3d"/><stop offset="0.72" stop-color="#443d3d"/><stop offset="0.72" stop-color="#2b5c68"/><stop offset="0.9" stop-color="#2b5c68"/><stop offset="0.9" stop-color="#c4bebe"/><stop offset="1" stop-color="#c4bebe"/></linearGradient></defs>
</g></svg></body></html>
